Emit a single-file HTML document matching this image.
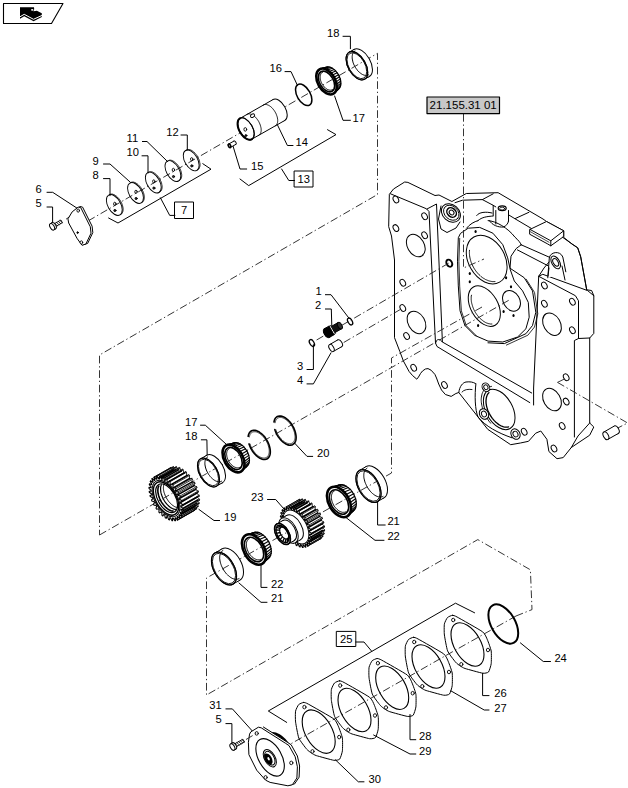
<!DOCTYPE html>
<html><head><meta charset="utf-8"><style>
html,body{margin:0;padding:0;background:#fff;}
svg{display:block;}
text{font-family:"Liberation Sans",sans-serif;fill:#000;}
</style></head><body>
<svg width="628" height="788" viewBox="0 0 628 788" stroke-linejoin="round" stroke-linecap="round">
<polygon points="3.5,3.5 63,3.5 51.5,23.5 3.5,23.5" fill="none" stroke="#000" stroke-width="1.1" />
<polygon points="20,7.3 34,7.3 34.2,9.3 33.4,11.2 36.9,10.7 41.8,13.2 41.8,17 33.6,21.3 24.2,16.3 20,18.8" fill="#000"/>
<polyline points="20.3,16.6 24.2,14.3 33.5,19.3 41.8,15.5" fill="none" stroke="#fff" stroke-width="1.0" />
<ellipse cx="32.2" cy="9.8" rx="1.2" ry="0.9" fill="#fff"/>
<polyline points="88,221 377.5,53.3 377.5,194.5 99.5,355 99.5,535" fill="none" stroke="#2a2a2a" stroke-width="0.95" stroke-dasharray="7.7 2.8 1.3 2.7" stroke-linecap="butt"/>
<polyline points="99.5,535 511,299" fill="none" stroke="#2a2a2a" stroke-width="0.95" stroke-dasharray="7.7 2.8 1.3 2.7" stroke-linecap="butt"/>
<polyline points="66,219.2 78,211" fill="none" stroke="#2a2a2a" stroke-width="0.95" stroke-dasharray="7.7 2.8 1.3 2.7" stroke-linecap="butt"/>
<polyline points="463.5,114 463.5,268 484,259" fill="none" stroke="#2a2a2a" stroke-width="0.95" stroke-dasharray="7.7 2.8 1.3 2.7" stroke-linecap="butt"/>
<polyline points="316.6,340 449,263" fill="none" stroke="#2a2a2a" stroke-width="0.95" stroke-dasharray="7.7 2.8 1.3 2.7" stroke-linecap="butt"/>
<polyline points="343.7,342.5 402,308.5" fill="none" stroke="#2a2a2a" stroke-width="0.95" stroke-dasharray="7.7 2.8 1.3 2.7" stroke-linecap="butt"/>
<polyline points="482,307 391.5,358 391.5,473 206.5,578 206.5,695 477.8,539.6 530.4,569.8 532,609.6 516,616" fill="none" stroke="#2a2a2a" stroke-width="0.95" stroke-dasharray="7.7 2.8 1.3 2.7" stroke-linecap="butt"/>
<polyline points="557.5,382.4 627.6,423 616.4,428.7" fill="none" stroke="#2a2a2a" stroke-width="0.95" stroke-dasharray="7.7 2.8 1.3 2.7" stroke-linecap="butt"/>
<polyline points="557.5,382.4 566,378.2" fill="none" stroke="#2a2a2a" stroke-width="0.95" stroke-dasharray="7.7 2.8 1.3 2.7" stroke-linecap="butt"/>
<polyline points="516,616 445,656 280,750" fill="none" stroke="#2a2a2a" stroke-width="0.95" stroke-dasharray="7.7 2.8 1.3 2.7" stroke-linecap="butt"/>
<polygon points="389.6,194 393.5,189 404.7,182 407.9,182.4 435,195.5 439,195 451.9,201.5 466.3,193.5 498.1,192.7 543,219 546.5,221.5 563.7,230.8 563.7,237.4 572,244 577.7,247.8 580.7,256.8 586.7,289.8 591.6,290.5 593.8,295.7 593.8,333.4 589.7,338 589.7,423 593.8,427 589.7,435.2 571.3,447.5 563.2,457.6 557,458.7 548.9,451.5 546.9,439.3 540.8,431 535.7,433.2 528.5,441.3 520.4,443 510.7,444.7 487.8,429.4 458.8,392.5 455.9,393.5 451.2,396.4 445.4,394.5 441.5,390 438.7,384 436.5,378 434.9,374.4 431.1,370.2 428,368.6 425.4,369 422.5,371 420.6,373.4 418.5,377 416.8,379.2 412.5,375.5 409.1,371.5 403.4,361 399.8,351.4 394.5,337.7 394.5,260 391.5,236 388.8,227" fill="#fff" stroke="#000" stroke-width="1" />
<clipPath id="hc"><polygon points="389.6,194 393.5,189 404.7,182 407.9,182.4 435,195.5 439,195 451.9,201.5 466.3,193.5 498.1,192.7 543,219 546.5,221.5 563.7,230.8 563.7,237.4 572,244 577.7,247.8 580.7,256.8 586.7,289.8 591.6,290.5 593.8,295.7 593.8,333.4 589.7,338 589.7,423 593.8,427 589.7,435.2 571.3,447.5 563.2,457.6 557,458.7 548.9,451.5 546.9,439.3 540.8,431 535.7,433.2 528.5,441.3 520.4,443 510.7,444.7 487.8,429.4 458.8,392.5 455.9,393.5 451.2,396.4 445.4,394.5 441.5,390 438.7,384 436.5,378 434.9,374.4 431.1,370.2 428,368.6 425.4,369 422.5,371 420.6,373.4 418.5,377 416.8,379.2 412.5,375.5 409.1,371.5 403.4,361 399.8,351.4 394.5,337.7 394.5,260 391.5,236 388.8,227"/></clipPath>
<polyline points="390.5,193.8 426.5,208.8 429,211.5 435.5,343 437,346.5 529.8,402.6" fill="none" stroke="#000" stroke-width="1" />
<polyline points="427,209 436.5,204 442.4,342 531.7,393" fill="none" stroke="#000" stroke-width="1" />
<path d="M435.5,343 C436,339 440,338 442.4,342" fill="none" stroke="#000" stroke-width="1" />
<polyline points="533.6,405 533.6,388 538.7,276.3 542.8,274.3 587.6,290.6 593.8,295.7" fill="none" stroke="#000" stroke-width="1" />
<polyline points="538.7,276.3 575.4,295.7 578.5,300.8 578.5,338.5 574.4,340.5 574.4,437" fill="none" stroke="#000" stroke-width="1" />
<polyline points="578.5,338.5 589.7,338" fill="none" stroke="#000" stroke-width="1" />
<polyline points="455,202.7 462.6,200.2 482.4,199.6 493.2,193.8" fill="none" stroke="#000" stroke-width="1" />
<polyline points="482.4,199.6 493.2,205.3 493.2,215.5" fill="none" stroke="#000" stroke-width="1" />
<polyline points="493.2,205.3 495.8,206.9" fill="none" stroke="#000" stroke-width="1" />
<polyline points="508.5,214.8 514.9,218.7 528.9,212.3" fill="none" stroke="#000" stroke-width="1" />
<polyline points="514.9,218.7 531.3,228.4" fill="none" stroke="#000" stroke-width="1" />
<path d="M476.7,215.5 C479,212 486,211.5 492,213" fill="none" stroke="#000" stroke-width="1" />
<path d="M478,220.6 C482,217 487,216.5 493.2,216" fill="none" stroke="#000" stroke-width="1" />
<path d="M466.5,228.2 C470,224 474,221.8 478,220.6" fill="none" stroke="#000" stroke-width="1" />
<polyline points="495.8,210.5 495.8,224" fill="none" stroke="#000" stroke-width="1" />
<polyline points="508.5,210.5 508.5,221.2" fill="none" stroke="#000" stroke-width="1" />
<path d="M489.4,220.6 C492,225 498,227.5 503.4,227 C506,226 508,224 508.5,221.2" fill="none" stroke="#000" stroke-width="1" />
<path d="M488.1,220.6 C496,221 508,228 514.9,237.1 C518,240 520.5,242.5 521.2,244.8" fill="none" stroke="#000" stroke-width="1" />
<polyline points="521.2,244.8 516.1,248.6 511,256.2 509.8,270" fill="none" stroke="#000" stroke-width="1" />
<polyline points="521.2,244.8 550,257.5" fill="none" stroke="#000" stroke-width="1" />
<polyline points="517.4,249.9 548.5,266" fill="none" stroke="#000" stroke-width="1" />
<polygon points="530,229.4 546.5,221.5 563.7,230.8 563.7,236.5 550.8,245.8 547.2,243.7 530,234.4" fill="#fff" stroke="#000" stroke-width="1" />
<polyline points="530,229.4 550.8,240.8 563.7,230.8" fill="none" stroke="#000" stroke-width="1" />
<polyline points="550.8,240.8 550.8,245.8" fill="none" stroke="#000" stroke-width="1" />
<polyline points="530.5,231.8 549,242.2" fill="none" stroke="#000" stroke-width="0.7" />
<polyline points="562.8,237.4 572,244 577.7,247.8 580.7,256.8 586.7,289.8" fill="none" stroke="#000" stroke-width="1" />
<path d="M547.8,277.8 L549.3,258 C550,252 560,250 562.8,257 L565.8,271.8" fill="#fff" stroke="#000" stroke-width="1" />
<polyline points="538.7,276.3 544,268 549,262" fill="none" stroke="#000" stroke-width="1" />
<ellipse cx="555.7" cy="262.4" rx="3.9" ry="7" transform="rotate(-29.7 555.7 262.4)" fill="#fff" stroke="#000" stroke-width="1" />
<ellipse cx="555.7" cy="262.4" rx="2.4" ry="4.2" transform="rotate(-29.7 555.7 262.4)" fill="#fff" stroke="#000" stroke-width="1" />
<polyline points="549,268 548,276" fill="none" stroke="#000" stroke-width="1" />
<polyline points="562,266 565,280" fill="none" stroke="#000" stroke-width="1" />
<polyline points="509.4,267.8 524.2,277.7 532.5,290.9 535.8,312.3 532.5,325.5 525.9,333.7 504.4,343.6 488,342.8" fill="none" stroke="#000" stroke-width="1" />
<polyline points="526.2,279.2 534.5,292.4 537.8,313.8 534.5,327 527.9,335.2 506.4,345.1" fill="none" stroke="#000" stroke-width="0.8" />
<polygon points="458.3,238.1 457.5,261.2 458.3,285.9 460,310.7 464.9,325.5 474.8,335.4 488,341.1 502.8,342 517.6,337 525.9,328.8 529.2,317.2 528.3,302.4 522.6,290.9 514.3,281 510.2,269.4 507.7,257.9 502.8,244.7 492.9,233.2 479.7,227.4 468.2,228.2 460.8,233.2" fill="#fff" stroke="#000" stroke-width="1" />
<polyline points="459.7,238.3 458.9,261.4 459.7,286.1 461.4,310.9 466.3,325.7 476.2,335.6" fill="none" stroke="#000" stroke-width="0.8" />
<ellipse cx="486.7" cy="259.6" rx="18.2" ry="26" transform="rotate(-29.7 486.7 259.6)" fill="#fff" stroke="#000" stroke-width="1" />
<polyline points="495,281.6 494.1,281.6 493.2,281.6 492.2,281.6 491.3,281.4 490.3,281.2 489.4,281 488.4,280.7 487.5,280.3 486.5,279.9 485.5,279.5 484.6,278.9 483.7,278.4 482.7,277.8 481.8,277.1 480.9,276.4 480.1,275.6 479.2,274.8 478.4,274 477.6,273.1 476.8,272.2 476,271.2 475.3,270.2 474.6,269.2 474,268.2 473.4,267.1 472.8,266 472.3,264.9 471.8,263.8 471.3,262.7 470.9,261.5 470.6,260.4 470.3,259.3 470,258.1 469.8,257 469.6,255.8 469.5,254.7 469.4,253.6 469.4,252.5 469.4,251.4 469.5,250.3" fill="none" stroke="#000" stroke-width="0.9" />
<ellipse cx="484.3" cy="306.1" rx="13.6" ry="22" transform="rotate(-29.7 484.3 306.1)" fill="#fff" stroke="#000" stroke-width="1" />
<polyline points="491.9,324 491.1,324 490.4,324 489.6,323.8 488.8,323.7 488,323.5 487.3,323.2 486.4,322.9 485.6,322.5 484.8,322 484,321.6 483.2,321 482.5,320.4 481.7,319.8 480.9,319.2 480.2,318.5 479.4,317.7 478.7,316.9 478,316.1 477.4,315.3 476.7,314.4 476.1,313.5 475.5,312.6 474.9,311.6 474.4,310.6 473.9,309.7 473.5,308.7 473.1,307.7 472.7,306.6 472.4,305.6 472.1,304.6 471.8,303.6 471.6,302.6 471.4,301.6 471.3,300.6 471.2,299.7 471.2,298.7 471.2,297.8 471.2,296.9 471.3,296 471.5,295.2" fill="none" stroke="#000" stroke-width="0.9" />
<ellipse cx="511.5" cy="300.8" rx="8.2" ry="11" transform="rotate(-29.7 511.5 300.8)" fill="#fff" stroke="#000" stroke-width="1" />
<ellipse cx="475.6" cy="231.5" rx="1.1" ry="1.5" transform="rotate(0 475.6 231.5)" fill="#000" stroke="#000" stroke-width="0"/>
<ellipse cx="469.8" cy="273.6" rx="1.1" ry="1.5" transform="rotate(0 469.8 273.6)" fill="#000" stroke="#000" stroke-width="0"/>
<ellipse cx="469.8" cy="281.8" rx="1.1" ry="1.5" transform="rotate(0 469.8 281.8)" fill="#000" stroke="#000" stroke-width="0"/>
<ellipse cx="506.1" cy="277.7" rx="1.1" ry="1.5" transform="rotate(0 506.1 277.7)" fill="#000" stroke="#000" stroke-width="0"/>
<ellipse cx="511" cy="286.8" rx="1.1" ry="1.5" transform="rotate(0 511 286.8)" fill="#000" stroke="#000" stroke-width="0"/>
<ellipse cx="503.6" cy="311.5" rx="1.1" ry="1.5" transform="rotate(0 503.6 311.5)" fill="#000" stroke="#000" stroke-width="0"/>
<ellipse cx="513.5" cy="315.6" rx="1.1" ry="1.5" transform="rotate(0 513.5 315.6)" fill="#000" stroke="#000" stroke-width="0"/>
<ellipse cx="478.1" cy="325.5" rx="1.1" ry="1.5" transform="rotate(0 478.1 325.5)" fill="#000" stroke="#000" stroke-width="0"/>
<polyline points="441,206 438.5,219 441,229 447,232.5 456,228 460,222" fill="#fff" stroke="#000" stroke-width="1" />
<ellipse cx="450.9" cy="213" rx="10.5" ry="8.2" transform="rotate(42 450.9 213)" fill="#fff" stroke="#000" stroke-width="1"/>
<ellipse cx="451.3" cy="212.8" rx="8.6" ry="6.6" transform="rotate(42 451.3 212.8)" fill="none" stroke="#000" stroke-width="0.9"/>
<ellipse cx="451.6" cy="212.5" rx="5.2" ry="4.2" transform="rotate(42 451.6 212.5)" fill="#fff" stroke="#000" stroke-width="1.5"/>
<ellipse cx="451.6" cy="212.5" rx="2.6" ry="2.1" transform="rotate(42 451.6 212.5)" fill="#fff" stroke="#000" stroke-width="1"/>
<ellipse cx="502.2" cy="208.2" rx="4" ry="2.4" transform="rotate(0 502.2 208.2)" fill="#fff" stroke="#000" stroke-width="1.2"/>
<ellipse cx="502.2" cy="208.6" rx="2.5" ry="1.4" transform="rotate(0 502.2 208.6)" fill="#fff" stroke="#000" stroke-width="0.8"/>
<ellipse cx="395.9" cy="199.5" rx="2.5" ry="3.6" transform="rotate(-29.7 395.9 199.5)" fill="#fff" stroke="#000" stroke-width="1" />
<ellipse cx="424.6" cy="216.2" rx="2.5" ry="3.6" transform="rotate(-29.7 424.6 216.2)" fill="#fff" stroke="#000" stroke-width="1" />
<ellipse cx="395.9" cy="228.1" rx="2.5" ry="3.6" transform="rotate(-29.7 395.9 228.1)" fill="#fff" stroke="#000" stroke-width="1" />
<ellipse cx="424.6" cy="235.3" rx="2.5" ry="3.6" transform="rotate(-29.7 424.6 235.3)" fill="#fff" stroke="#000" stroke-width="1" />
<ellipse cx="402.8" cy="282.8" rx="2.5" ry="3.6" transform="rotate(-29.7 402.8 282.8)" fill="#fff" stroke="#000" stroke-width="1" />
<ellipse cx="402.8" cy="308" rx="2.5" ry="3.6" transform="rotate(-29.7 402.8 308)" fill="#fff" stroke="#000" stroke-width="1" />
<ellipse cx="406.6" cy="336" rx="2.5" ry="3.6" transform="rotate(-29.7 406.6 336)" fill="#fff" stroke="#000" stroke-width="1" />
<ellipse cx="413.7" cy="367.8" rx="2.5" ry="3.6" transform="rotate(-29.7 413.7 367.8)" fill="#fff" stroke="#000" stroke-width="1" />
<ellipse cx="444.5" cy="385" rx="2.5" ry="3.6" transform="rotate(-29.7 444.5 385)" fill="#fff" stroke="#000" stroke-width="1" />
<ellipse cx="544.4" cy="285.5" rx="2.5" ry="3.6" transform="rotate(-29.7 544.4 285.5)" fill="#fff" stroke="#000" stroke-width="1" />
<ellipse cx="572.4" cy="301.8" rx="2.5" ry="3.6" transform="rotate(-29.7 572.4 301.8)" fill="#fff" stroke="#000" stroke-width="1" />
<ellipse cx="544.4" cy="303.8" rx="2.5" ry="3.6" transform="rotate(-29.7 544.4 303.8)" fill="#fff" stroke="#000" stroke-width="1" />
<ellipse cx="572.4" cy="330.3" rx="2.5" ry="3.6" transform="rotate(-29.7 572.4 330.3)" fill="#fff" stroke="#000" stroke-width="1" />
<ellipse cx="566.2" cy="377.2" rx="2.5" ry="3.6" transform="rotate(-29.7 566.2 377.2)" fill="#fff" stroke="#000" stroke-width="1" />
<ellipse cx="566.2" cy="401.6" rx="2.5" ry="3.6" transform="rotate(-29.7 566.2 401.6)" fill="#fff" stroke="#000" stroke-width="1" />
<ellipse cx="562.2" cy="426" rx="2.5" ry="3.6" transform="rotate(-29.7 562.2 426)" fill="#fff" stroke="#000" stroke-width="1" />
<ellipse cx="554" cy="448.5" rx="2.5" ry="3.6" transform="rotate(-29.7 554 448.5)" fill="#fff" stroke="#000" stroke-width="1" />
<ellipse cx="524.2" cy="431.8" rx="2.5" ry="3.6" transform="rotate(-29.7 524.2 431.8)" fill="#fff" stroke="#000" stroke-width="1" />
<ellipse cx="415.8" cy="245.6" rx="8.4" ry="12" transform="rotate(-29.7 415.8 245.6)" fill="#fff" stroke="#000" stroke-width="1" />
<ellipse cx="416.5" cy="322.4" rx="8.4" ry="12" transform="rotate(-29.7 416.5 322.4)" fill="#fff" stroke="#000" stroke-width="1" />
<ellipse cx="552" cy="324.2" rx="8.4" ry="12" transform="rotate(-29.7 552 324.2)" fill="#fff" stroke="#000" stroke-width="1" />
<ellipse cx="552" cy="399.6" rx="8.4" ry="12" transform="rotate(-29.7 552 399.6)" fill="#fff" stroke="#000" stroke-width="1" />
<ellipse cx="449.3" cy="263.2" rx="2.7" ry="3.8" transform="rotate(-29.7 449.3 263.2)" fill="#fff" stroke="#000" stroke-width="1.9" />
<path d="M475.9,383.9 C474.5,395 475,410 478,417 C485,426 498,433 511.9,437.8" fill="none" stroke="#000" stroke-width="1" />
<path d="M458.8,392.5 C459.5,386 463,382.5 466,382 C470,381.5 473,382 475.5,383.5" fill="none" stroke="#000" stroke-width="1" />
<path d="M462,392 C464,389.5 468,389 472,389.5" fill="none" stroke="#000" stroke-width="0.9" />
<ellipse cx="499.2" cy="409.4" rx="13.2" ry="22" transform="rotate(-29.7 499.2 409.4)" fill="#fff" stroke="#000" stroke-width="1" />
<polyline points="508.6,426.9 507.7,427.1 506.8,427.2 505.9,427.1 504.9,427.1 503.9,426.9 503,426.6 501.9,426.2 500.9,425.8 499.9,425.2 498.9,424.6 497.9,423.9 496.9,423.1 495.9,422.3 495,421.4 494,420.4 493.2,419.4 492.3,418.3 491.5,417.1 490.7,416 490,414.7 489.3,413.5 488.7,412.2 488.1,411 487.6,409.7 487.2,408.4 486.8,407.1 486.5,405.8 486.3,404.5 486.1,403.3 486,402 486,400.8 486.1,399.7 486.2,398.6 486.4,397.5 486.7,396.5 487,395.6 487.4,394.7 487.9,393.9 488.4,393.2 489,392.6" fill="none" stroke="#000" stroke-width="1.3" />
<polyline points="490.6,423.2 489.8,422.1 488.9,421.1 488.2,420 487.4,418.8 486.7,417.7 486,416.5 485.3,415.3 484.7,414 484.2,412.8 483.6,411.6 483.2,410.3 482.7,409 482.4,407.8 482.1,406.5 481.8,405.3 481.6,404 481.4,402.8 481.3,401.6 481.2,400.4 481.2,399.3 481.3,398.2 481.4,397.1 481.6,396 481.8,395 482,394.1 482.3,393.2 482.7,392.3 483.1,391.5 483.6,390.7 484.1,390 484.7,389.4 485.3,388.8 485.9,388.3 486.6,387.8 487.3,387.4 488.1,387.1 488.9,386.8 489.7,386.6 490.6,386.5 491.5,386.4" fill="none" stroke="#000" stroke-width="0.9" />
<ellipse cx="484" cy="414" rx="4.4" ry="5.5" transform="rotate(-29.7 484 414)" fill="#fff" stroke="#000" stroke-width="1" />
<ellipse cx="484" cy="414" rx="2.4" ry="3" transform="rotate(-29.7 484 414)" fill="#fff" stroke="#000" stroke-width="0.9" />
<ellipse cx="485.9" cy="387.3" rx="3.6" ry="4.5" transform="rotate(-29.7 485.9 387.3)" fill="#fff" stroke="#000" stroke-width="1" />
<ellipse cx="485.9" cy="387.3" rx="2" ry="2.5" transform="rotate(-29.7 485.9 387.3)" fill="#fff" stroke="#000" stroke-width="0.9" />
<ellipse cx="515.5" cy="434.1" rx="4.4" ry="5.5" transform="rotate(-29.7 515.5 434.1)" fill="#fff" stroke="#000" stroke-width="1" />
<ellipse cx="515.5" cy="434.1" rx="2.4" ry="3" transform="rotate(-29.7 515.5 434.1)" fill="#fff" stroke="#000" stroke-width="0.9" />
<polyline points="589.7,423 578,436 571.3,447.5" fill="none" stroke="#000" stroke-width="1" />
<ellipse cx="616.3" cy="429.8" rx="2.4" ry="4.2" transform="rotate(-29.7 616.3 429.8)" fill="#fff" stroke="#000" stroke-width="1" />
<polygon points="608,439.3 618.4,433.4 614.2,426.1 603.8,432.1" fill="#fff" stroke="none" stroke-width="0" />
<line x1="608" y1="439.3" x2="618.4" y2="433.4" stroke="#000" stroke-width="1"/>
<line x1="614.2" y1="426.1" x2="603.8" y2="432.1" stroke="#000" stroke-width="1"/>
<ellipse cx="605.9" cy="435.7" rx="2.4" ry="4.2" transform="rotate(-29.7 605.9 435.7)" fill="#fff" stroke="#000" stroke-width="1" />
<g clip-path="url(#hc)">
<polyline points="99.5,535 511,299" fill="none" stroke="#2a2a2a" stroke-width="0.95" stroke-dasharray="7.7 2.8 1.3 2.7" stroke-linecap="butt"/>
<polyline points="463.5,114 463.5,268 484,259" fill="none" stroke="#2a2a2a" stroke-width="0.95" stroke-dasharray="7.7 2.8 1.3 2.7" stroke-linecap="butt"/>
<polyline points="316.6,340 449,263" fill="none" stroke="#2a2a2a" stroke-width="0.95" stroke-dasharray="7.7 2.8 1.3 2.7" stroke-linecap="butt"/>
<polyline points="343.7,342.5 402,308.5" fill="none" stroke="#2a2a2a" stroke-width="0.95" stroke-dasharray="7.7 2.8 1.3 2.7" stroke-linecap="butt"/>
<polyline points="482,307 391.5,358" fill="none" stroke="#2a2a2a" stroke-width="0.95" stroke-dasharray="7.7 2.8 1.3 2.7" stroke-linecap="butt"/>
<polyline points="557.5,382.4 627.6,423" fill="none" stroke="#2a2a2a" stroke-width="0.95" stroke-dasharray="7.7 2.8 1.3 2.7" stroke-linecap="butt"/>
<polyline points="557.5,382.4 566,378.2" fill="none" stroke="#2a2a2a" stroke-width="0.95" stroke-dasharray="7.7 2.8 1.3 2.7" stroke-linecap="butt"/>
</g>
<text x="35.6" y="207" font-size="11.2" text-anchor="start" font-weight="normal">5</text>
<polyline points="47,207 52.6,207 52.6,224" fill="none" stroke="#000" stroke-width="1" />
<text x="35.6" y="193" font-size="11.2" text-anchor="start" font-weight="normal">6</text>
<polyline points="47,192.3 52.7,192.3 78,208.8" fill="none" stroke="#000" stroke-width="1" />
<text x="92.6" y="179" font-size="11.2" text-anchor="start" font-weight="normal">8</text>
<polyline points="103.5,178.6 110,178.6 110,195.7" fill="none" stroke="#000" stroke-width="1" />
<text x="92.6" y="164.7" font-size="11.2" text-anchor="start" font-weight="normal">9</text>
<polyline points="103.5,164 110,164 130.4,182.3" fill="none" stroke="#000" stroke-width="1" />
<text x="126.6" y="156.4" font-size="11.2" text-anchor="start" font-weight="normal">10</text>
<polyline points="142,155.8 148,155.8 148,173" fill="none" stroke="#000" stroke-width="1" />
<text x="126.6" y="142" font-size="11.2" text-anchor="start" font-weight="normal">11</text>
<polyline points="142.4,141.5 147,141.5 167.6,161.6" fill="none" stroke="#000" stroke-width="1" />
<text x="166.2" y="135.7" font-size="11.2" text-anchor="start" font-weight="normal">12</text>
<polyline points="181,135 187.3,135 187.3,150" fill="none" stroke="#000" stroke-width="1" />
<rect x="174.9" y="202" width="18.6" height="16.5" fill="#fff" stroke="#000" stroke-width="1"/>
<text x="184.2" y="214.3" font-size="11.2" text-anchor="middle" font-weight="normal">7</text>
<polyline points="108.6,218 118,223 211,169.2 202.8,163.7" fill="none" stroke="#000" stroke-width="1" />
<polyline points="160.4,197.8 169.7,215.4 174.9,215.4" fill="none" stroke="#000" stroke-width="1" />
<text x="269.6" y="71.6" font-size="11.2" text-anchor="start" font-weight="normal">16</text>
<polyline points="285,71.6 291,71.6 297.4,85.3" fill="none" stroke="#000" stroke-width="1" />
<text x="327.1" y="36.6" font-size="11.2" text-anchor="start" font-weight="normal">18</text>
<polyline points="343,36.3 350.4,36.3 350.4,48.7" fill="none" stroke="#000" stroke-width="1" />
<text x="352.6" y="121.7" font-size="11.2" text-anchor="start" font-weight="normal">17</text>
<polyline points="334.6,96 343,120.3 350.4,120.3" fill="none" stroke="#000" stroke-width="1" />
<text x="295.6" y="146" font-size="11.2" text-anchor="start" font-weight="normal">14</text>
<polyline points="277.3,124.6 287.4,145.5 293,145.5" fill="none" stroke="#000" stroke-width="1" />
<text x="251.1" y="170.4" font-size="11.2" text-anchor="start" font-weight="normal">15</text>
<polyline points="233,146 240,169 246.7,169" fill="none" stroke="#000" stroke-width="1" />
<rect x="294.5" y="171" width="18.5" height="16" fill="#fff" stroke="#000" stroke-width="1"/>
<text x="303.8" y="183.1" font-size="11.2" text-anchor="middle" font-weight="normal">13</text>
<polyline points="240,179 248.7,185.6 336,134.6 327.5,129.7" fill="none" stroke="#000" stroke-width="1" />
<polyline points="281.6,169 288.8,180.5 294.5,180.5" fill="none" stroke="#000" stroke-width="1" />
<rect x="427" y="97" width="72.5" height="16.6" fill="#c8c8c8" stroke="#000" stroke-width="1.2"/>
<text x="463.2" y="109.4" font-size="11.5" text-anchor="middle" font-weight="normal">21.155.31 01</text>
<text x="315.4" y="294.7" font-size="11.2" text-anchor="start" font-weight="normal">1</text>
<polyline points="325.4,294.7 331,294.7 349.3,318.6" fill="none" stroke="#000" stroke-width="1" />
<text x="315" y="309" font-size="11.2" text-anchor="start" font-weight="normal">2</text>
<polyline points="325.4,309 331.3,309 331.8,325.7" fill="none" stroke="#000" stroke-width="1" />
<text x="297.1" y="369.5" font-size="11.2" text-anchor="start" font-weight="normal">3</text>
<polyline points="307,369.5 313.4,369.5 313.4,344.8" fill="none" stroke="#000" stroke-width="1" />
<text x="297.1" y="383.9" font-size="11.2" text-anchor="start" font-weight="normal">4</text>
<polyline points="307,383.9 313.4,383.9 331,352.8" fill="none" stroke="#000" stroke-width="1" />
<text x="185" y="425.5" font-size="11.2" text-anchor="start" font-weight="normal">17</text>
<polyline points="200.5,425.2 205.3,425.2 228.4,446.2" fill="none" stroke="#000" stroke-width="1" />
<text x="185" y="439.8" font-size="11.2" text-anchor="start" font-weight="normal">18</text>
<polyline points="201.3,439.8 206.9,439.8 207.2,457.3" fill="none" stroke="#000" stroke-width="1" />
<text x="317.1" y="457.3" font-size="11.2" text-anchor="start" font-weight="normal">20</text>
<polyline points="294.5,443 307,456.4 312.7,456.4" fill="none" stroke="#000" stroke-width="1" />
<text x="224" y="520.5" font-size="11.2" text-anchor="start" font-weight="normal">19</text>
<polyline points="198.9,509.4 214,520.5 219.6,520.5" fill="none" stroke="#000" stroke-width="1" />
<text x="251.1" y="500.8" font-size="11.2" text-anchor="start" font-weight="normal">23</text>
<polyline points="267.5,499.5 275.7,499.5 284.6,509.7" fill="none" stroke="#000" stroke-width="1" />
<text x="387.4" y="525" font-size="11.2" text-anchor="start" font-weight="normal">21</text>
<polyline points="377.6,502 377.6,525 385.2,525" fill="none" stroke="#000" stroke-width="1" />
<text x="387.4" y="540.3" font-size="11.2" text-anchor="start" font-weight="normal">22</text>
<polyline points="345.7,517.3 375,540.3 384,540.3" fill="none" stroke="#000" stroke-width="1" />
<text x="271.1" y="588.3" font-size="11.2" text-anchor="start" font-weight="normal">22</text>
<polyline points="261,563.8 261,587.4 267,587.4" fill="none" stroke="#000" stroke-width="1" />
<text x="271.1" y="602.3" font-size="11.2" text-anchor="start" font-weight="normal">21</text>
<polyline points="239,583 261,602.3 267,602.3" fill="none" stroke="#000" stroke-width="1" />
<rect x="336.7" y="631.4" width="19.1" height="15.1" fill="#fff" stroke="#000" stroke-width="1"/>
<text x="346.2" y="643" font-size="11.2" text-anchor="middle" font-weight="normal">25</text>
<polyline points="355.8,642 364,642 371.5,651" fill="none" stroke="#000" stroke-width="1" />
<polyline points="286.7,722.4 268.3,711 455.5,603.2 474.6,612.8" fill="none" stroke="#000" stroke-width="1" />
<text x="554.4" y="662.4" font-size="11.2" text-anchor="start" font-weight="normal">24</text>
<polyline points="520.4,642.9 543.3,661.5 550.5,661.5" fill="none" stroke="#000" stroke-width="1" />
<text x="494.2" y="697.3" font-size="11.2" text-anchor="start" font-weight="normal">26</text>
<polyline points="482.6,673.3 482.6,695.6 489,695.6" fill="none" stroke="#000" stroke-width="1" />
<text x="494.2" y="711.7" font-size="11.2" text-anchor="start" font-weight="normal">27</text>
<polyline points="450.8,690.8 484.2,710 489,710" fill="none" stroke="#000" stroke-width="1" />
<text x="419.1" y="740.3" font-size="11.2" text-anchor="start" font-weight="normal">28</text>
<polyline points="410,714.5 410,739.7 415.8,739.7" fill="none" stroke="#000" stroke-width="1" />
<text x="419.1" y="754.6" font-size="11.2" text-anchor="start" font-weight="normal">29</text>
<polyline points="373.6,735 410,754 415.8,754" fill="none" stroke="#000" stroke-width="1" />
<text x="368.5" y="782.7" font-size="11.2" text-anchor="start" font-weight="normal">30</text>
<polyline points="335.4,759.8 358.3,781.8 364,781.8" fill="none" stroke="#000" stroke-width="1" />
<text x="209.2" y="709.3" font-size="11.2" text-anchor="start" font-weight="normal">31</text>
<polyline points="225.9,708.9 232.4,708.9 252.5,731.2" fill="none" stroke="#000" stroke-width="1" />
<text x="215.4" y="723.3" font-size="11.2" text-anchor="start" font-weight="normal">5</text>
<polyline points="225.9,723.6 231.9,723.6 231.9,743.4" fill="none" stroke="#000" stroke-width="1" />
<polygon points="52.9,228.2 62.4,222.7 60.9,220 51.3,225.4" fill="#fff" stroke="#000" stroke-width="0.9" />
<line x1="57.2" y1="225.7" x2="54.8" y2="223.4" stroke="#000" stroke-width="0.8"/>
<line x1="59" y1="224.7" x2="56.5" y2="222.4" stroke="#000" stroke-width="0.8"/>
<line x1="60.7" y1="223.7" x2="58.3" y2="221.4" stroke="#000" stroke-width="0.8"/>
<line x1="62.4" y1="222.7" x2="60" y2="220.5" stroke="#000" stroke-width="0.8"/>
<ellipse cx="53.8" cy="225.8" rx="2" ry="3.6" transform="rotate(-29.7 53.8 225.8)" fill="#fff" stroke="#000" stroke-width="1" />
<polygon points="53.9,229.9 55.6,228.9 52.1,222.7 50.3,223.7" fill="#fff" stroke="none" stroke-width="0" />
<line x1="53.9" y1="229.9" x2="55.6" y2="228.9" stroke="#000" stroke-width="1"/>
<line x1="52.1" y1="222.7" x2="50.3" y2="223.7" stroke="#000" stroke-width="1"/>
<ellipse cx="52.1" cy="226.8" rx="2" ry="3.6" transform="rotate(-29.7 52.1 226.8)" fill="#fff" stroke="#000" stroke-width="1" />
<polygon points="74.3,211 80,206.5 82.6,207.1 92.1,226.2 92.8,232.6 87.7,243.4 83.8,244.7 78.8,237.7 70.5,222.4 69.8,218.6" fill="#fff" stroke="#000" stroke-width="1" />
<polygon points="72.5,211.6 78.2,207.1 80.8,207.7 90.3,226.8 91,233.2 85.9,244 82,245.3 77,238.3 68.7,223 68,219.2" fill="#fff" stroke="#000" stroke-width="1" />
<ellipse cx="78.2" cy="210.6" rx="1.3" ry="1.6" transform="rotate(0 78.2 210.6)" fill="#fff" stroke="#000" stroke-width="0.9"/>
<ellipse cx="81.4" cy="242.4" rx="1.3" ry="1.6" transform="rotate(0 81.4 242.4)" fill="#fff" stroke="#000" stroke-width="0.9"/>
<ellipse cx="77.6" cy="232.6" rx="0.7" ry="0.9" transform="rotate(0 77.6 232.6)" fill="#000" stroke="#000" stroke-width="0.9"/>
<polyline points="109.5,194.6 110,194.4 110.5,194.2 111,194.1 111.5,194.1 112.1,194.1 112.7,194.2 113.3,194.4 113.9,194.6 114.5,194.9 115.1,195.3 115.7,195.7 116.3,196.1 116.9,196.6 117.5,197.2 118.1,197.8 118.7,198.4 119.2,199.1 119.8,199.8 120.3,200.6 120.7,201.3 121.1,202.1 121.5,202.9 121.9,203.7 122.2,204.6 122.5,205.4 122.7,206.2 122.8,207 123,207.8 123.1,208.5 123.1,209.3 123.1,210 123,210.7 122.9,211.3 122.7,211.9 122.5,212.4 122.3,212.9 122,213.4 121.6,213.8 121.2,214.1 120.8,214.4" fill="none" stroke="#000" stroke-width="0.9" />
<ellipse cx="114.3" cy="205" rx="6.4" ry="11.4" transform="rotate(-29.7 114.3 205)" fill="none" stroke="#000" stroke-width="0.9" />
<ellipse cx="114.8" cy="203.8" rx="1.2" ry="1.6" transform="rotate(0 114.8 203.8)" fill="none" stroke="#000" stroke-width="0.9"/>
<ellipse cx="114.9" cy="210.5" rx="1.1" ry="1.1" transform="rotate(0 114.9 210.5)" fill="#333" stroke="#000" stroke-width="0.9"/>
<polyline points="130.7,182.6 131.2,182.4 131.7,182.2 132.2,182.1 132.7,182.1 133.3,182.1 133.9,182.2 134.5,182.4 135.1,182.6 135.7,182.9 136.3,183.3 136.9,183.7 137.5,184.1 138.1,184.6 138.7,185.2 139.3,185.8 139.9,186.4 140.4,187.1 141,187.8 141.5,188.6 141.9,189.3 142.3,190.1 142.7,190.9 143.1,191.7 143.4,192.6 143.7,193.4 143.9,194.2 144,195 144.2,195.8 144.3,196.5 144.3,197.3 144.3,198 144.2,198.7 144.1,199.3 143.9,199.9 143.7,200.4 143.5,200.9 143.2,201.4 142.8,201.8 142.4,202.1 142,202.4" fill="none" stroke="#000" stroke-width="0.9" />
<ellipse cx="135.5" cy="193" rx="6.4" ry="11.4" transform="rotate(-29.7 135.5 193)" fill="none" stroke="#000" stroke-width="0.9" />
<ellipse cx="136" cy="191.8" rx="1.2" ry="1.6" transform="rotate(0 136 191.8)" fill="none" stroke="#000" stroke-width="0.9"/>
<ellipse cx="136.1" cy="198.5" rx="1.1" ry="1.1" transform="rotate(0 136.1 198.5)" fill="#333" stroke="#000" stroke-width="0.9"/>
<polyline points="148.5,172.2 149,172 149.5,171.8 150,171.7 150.5,171.7 151.1,171.7 151.7,171.8 152.3,172 152.9,172.2 153.5,172.5 154.1,172.9 154.7,173.3 155.3,173.7 155.9,174.2 156.5,174.8 157.1,175.4 157.7,176 158.2,176.7 158.8,177.4 159.3,178.2 159.7,178.9 160.1,179.7 160.5,180.5 160.9,181.3 161.2,182.2 161.5,183 161.7,183.8 161.8,184.6 162,185.4 162.1,186.1 162.1,186.9 162.1,187.6 162,188.3 161.9,188.9 161.7,189.5 161.5,190 161.3,190.5 161,191 160.6,191.4 160.2,191.7 159.8,192" fill="none" stroke="#000" stroke-width="0.9" />
<ellipse cx="153.3" cy="182.6" rx="6.4" ry="11.4" transform="rotate(-29.7 153.3 182.6)" fill="none" stroke="#000" stroke-width="0.9" />
<ellipse cx="153.8" cy="181.4" rx="1.2" ry="1.6" transform="rotate(0 153.8 181.4)" fill="none" stroke="#000" stroke-width="0.9"/>
<ellipse cx="153.9" cy="188.1" rx="1.1" ry="1.1" transform="rotate(0 153.9 188.1)" fill="#333" stroke="#000" stroke-width="0.9"/>
<polyline points="168.1,160.7 168.6,160.5 169.1,160.3 169.6,160.2 170.1,160.2 170.7,160.2 171.3,160.3 171.9,160.5 172.5,160.7 173.1,161 173.7,161.4 174.3,161.8 174.9,162.2 175.5,162.7 176.1,163.3 176.7,163.9 177.3,164.5 177.8,165.2 178.4,165.9 178.9,166.7 179.3,167.4 179.7,168.2 180.1,169 180.5,169.8 180.8,170.7 181.1,171.5 181.3,172.3 181.4,173.1 181.6,173.9 181.7,174.6 181.7,175.4 181.7,176.1 181.6,176.8 181.5,177.4 181.3,178 181.1,178.5 180.9,179 180.6,179.5 180.2,179.9 179.8,180.2 179.4,180.5" fill="none" stroke="#000" stroke-width="0.9" />
<ellipse cx="172.9" cy="171.1" rx="6.4" ry="11.4" transform="rotate(-29.7 172.9 171.1)" fill="none" stroke="#000" stroke-width="0.9" />
<ellipse cx="173.4" cy="169.9" rx="1.2" ry="1.6" transform="rotate(0 173.4 169.9)" fill="none" stroke="#000" stroke-width="0.9"/>
<ellipse cx="173.5" cy="176.6" rx="1.1" ry="1.1" transform="rotate(0 173.5 176.6)" fill="#333" stroke="#000" stroke-width="0.9"/>
<polyline points="186.4,150 186.9,149.8 187.4,149.6 187.9,149.5 188.4,149.5 189,149.5 189.6,149.6 190.2,149.8 190.8,150 191.4,150.3 192,150.7 192.6,151.1 193.2,151.5 193.8,152 194.4,152.6 195,153.2 195.6,153.8 196.1,154.5 196.7,155.2 197.2,156 197.6,156.7 198,157.5 198.4,158.3 198.8,159.1 199.1,160 199.4,160.8 199.6,161.6 199.7,162.4 199.9,163.2 200,163.9 200,164.7 200,165.4 199.9,166.1 199.8,166.7 199.6,167.3 199.4,167.8 199.2,168.3 198.9,168.8 198.5,169.2 198.1,169.5 197.7,169.8" fill="none" stroke="#000" stroke-width="0.9" />
<ellipse cx="191.2" cy="160.4" rx="6.4" ry="11.4" transform="rotate(-29.7 191.2 160.4)" fill="none" stroke="#000" stroke-width="0.9" />
<ellipse cx="191.7" cy="159.2" rx="1.2" ry="1.6" transform="rotate(0 191.7 159.2)" fill="none" stroke="#000" stroke-width="0.9"/>
<ellipse cx="191.8" cy="165.9" rx="1.1" ry="1.1" transform="rotate(0 191.8 165.9)" fill="#333" stroke="#000" stroke-width="0.9"/>
<ellipse cx="278.9" cy="110" rx="6.7" ry="12" transform="rotate(-29.7 278.9 110)" fill="#fff" stroke="#000" stroke-width="1" />
<polygon points="251.8,139.2 284.9,120.4 273,99.6 240,118.4" fill="#fff" stroke="none" stroke-width="0" />
<line x1="251.8" y1="139.2" x2="284.9" y2="120.4" stroke="#000" stroke-width="1"/>
<line x1="273" y1="99.6" x2="240" y2="118.4" stroke="#000" stroke-width="1"/>
<ellipse cx="245.9" cy="128.8" rx="6.7" ry="12" transform="rotate(-29.7 245.9 128.8)" fill="#fff" stroke="#000" stroke-width="1" />
<polyline points="246.9,114.4 247.4,114.2 247.9,114 248.4,113.9 249,113.9 249.6,113.9 250.2,114 250.8,114.2 251.5,114.4 252.1,114.7 252.8,115.1 253.4,115.5 254.1,116 254.7,116.6 255.4,117.1 256,117.8 256.6,118.5 257.1,119.2 257.7,119.9 258.2,120.7 258.7,121.5 259.1,122.3 259.5,123.2 259.9,124 260.2,124.9 260.5,125.8 260.7,126.6 260.9,127.4 261.1,128.3 261.1,129.1 261.2,129.9 261.2,130.6 261.1,131.3 261,132 260.8,132.6 260.6,133.2 260.3,133.7 260,134.2 259.6,134.6 259.2,135 258.8,135.3" fill="none" stroke="#000" stroke-width="0.9" />
<polyline points="263.4,105 263.9,104.8 264.4,104.6 264.9,104.5 265.5,104.5 266.1,104.5 266.7,104.6 267.3,104.8 268,105 268.6,105.3 269.3,105.7 269.9,106.1 270.6,106.6 271.2,107.1 271.9,107.7 272.5,108.4 273.1,109 273.6,109.8 274.2,110.5 274.7,111.3 275.2,112.1 275.6,112.9 276.1,113.8 276.4,114.6 276.7,115.5 277,116.3 277.3,117.2 277.4,118 277.6,118.9 277.7,119.7 277.7,120.4 277.7,121.2 277.6,121.9 277.5,122.6 277.3,123.2 277.1,123.8 276.8,124.3 276.5,124.8 276.1,125.2 275.7,125.6 275.3,125.9" fill="none" stroke="#000" stroke-width="0.9" />
<polyline points="251.8,139.2 251.4,139.5 250.9,139.6 250.3,139.7 249.7,139.7 249.2,139.7 248.5,139.6 247.9,139.4 247.3,139.2 246.6,138.9 246,138.5 245.3,138.1 244.7,137.6 244,137.1 243.4,136.5 242.8,135.9 242.2,135.2 241.6,134.5 241.1,133.7 240.5,132.9 240.1,132.1 239.6,131.3 239.2,130.5 238.8,129.6 238.5,128.7 238.2,127.9 238,127 237.8,126.2 237.7,125.4 237.6,124.6 237.6,123.8 237.6,123 237.7,122.3 237.8,121.6 238,121 238.2,120.4 238.4,119.9 238.8,119.4 239.1,119 239.5,118.7 240,118.4" fill="none" stroke="#000" stroke-width="2" />
<ellipse cx="245.9" cy="128.8" rx="6.7" ry="12" transform="rotate(-29.7 245.9 128.8)" fill="none" stroke="#000" stroke-width="1" />
<ellipse cx="245.3" cy="129.4" rx="1.4" ry="1.8" transform="rotate(0 245.3 129.4)" fill="none" stroke="#000" stroke-width="0.9"/>
<ellipse cx="245.9" cy="135.6" rx="1" ry="1" transform="rotate(0 245.9 135.6)" fill="#333" stroke="#000" stroke-width="0.9"/>
<ellipse cx="252.5" cy="115.7" rx="2.2" ry="1.6" transform="rotate(-30 252.5 115.7)" fill="#fff" stroke="#000" stroke-width="0.9"/>
<ellipse cx="234.9" cy="142.7" rx="1.1" ry="1.9" transform="rotate(-29.7 234.9 142.7)" fill="#fff" stroke="#000" stroke-width="1" />
<polygon points="230.4,147.5 235.8,144.4 233.9,141.1 228.6,144.1" fill="#fff" stroke="none" stroke-width="0" />
<line x1="230.4" y1="147.5" x2="235.8" y2="144.4" stroke="#000" stroke-width="1"/>
<line x1="233.9" y1="141.1" x2="228.6" y2="144.1" stroke="#000" stroke-width="1"/>
<ellipse cx="229.5" cy="145.8" rx="1.1" ry="1.9" transform="rotate(-29.7 229.5 145.8)" fill="#fff" stroke="#000" stroke-width="1" />
<ellipse cx="229.5" cy="145.8" rx="1.1" ry="1.9" transform="rotate(-29.7 229.5 145.8)" fill="#fff" stroke="#000" stroke-width="1.6" />
<ellipse cx="303.7" cy="94.8" rx="6.6" ry="11.8" transform="rotate(-29.7 303.7 94.8)" fill="none" stroke="#000" stroke-width="1.5" />
<ellipse cx="350.1" cy="321.5" rx="2.1" ry="3.7" transform="rotate(-29.7 350.1 321.5)" fill="none" stroke="#000" stroke-width="1.3" />
<ellipse cx="311.9" cy="343" rx="2.1" ry="3.7" transform="rotate(-29.7 311.9 343)" fill="none" stroke="#000" stroke-width="1.3" />
<polygon points="326.2,336 328.4,334.8 326.2,330.9 324,332.2" fill="#000" stroke="#000" stroke-width="1" />
<polygon points="329.5,337.3 334.3,334.6 329.3,325.9 324.5,328.7" fill="#000" stroke="#000" stroke-width="1" />
<ellipse cx="327" cy="333" rx="2.8" ry="5" transform="rotate(-29.7 327 333)" fill="#000" stroke="#000" stroke-width="1" />
<polygon points="334.1,334.3 335.6,333.4 331.1,325.4 329.5,326.3" fill="#fff" stroke="#000" stroke-width="0.8" />
<polygon points="335.1,332.5 341.6,328.8 338.1,322.5 331.6,326.3" fill="#111" stroke="#000" stroke-width="1" />
<ellipse cx="339.9" cy="325.7" rx="2" ry="3.6" transform="rotate(-29.7 339.9 325.7)" fill="#333" stroke="#000" stroke-width="1" />
<ellipse cx="339.8" cy="343.3" rx="2.2" ry="3.9" transform="rotate(-29.7 339.8 343.3)" fill="#fff" stroke="#000" stroke-width="1" />
<polygon points="333.4,351.4 341.7,346.7 337.8,339.9 329.6,344.6" fill="#fff" stroke="none" stroke-width="0" />
<line x1="333.4" y1="351.4" x2="341.7" y2="346.7" stroke="#000" stroke-width="1"/>
<line x1="337.8" y1="339.9" x2="329.6" y2="344.6" stroke="#000" stroke-width="1"/>
<ellipse cx="331.5" cy="348" rx="2.2" ry="3.9" transform="rotate(-29.7 331.5 348)" fill="#fff" stroke="#000" stroke-width="1" />
<polygon points="194.4,482.3 195,483.3 194,485 194.4,485.9 196.6,486.6 197,487.7 195.6,488.8 195.9,489.8 198.2,491 198.5,492 196.8,492.6 197,493.6 199.2,495.3 199.3,496.3 197.3,496.3 197.4,497.2 199.5,499.3 199.5,500.3 197.4,499.7 197.3,500.5 199.2,503 199,503.9 196.8,502.8 196.6,503.4 198.3,506.2 197.9,506.8 195.7,505.2 195.4,505.8 196.7,508.6 196.3,509.1 194.1,507.1 193.7,507.5 194.6,510.4 194,510.7 192.1,508.3 191.5,508.4 192.1,511.3 191.4,511.4 189.7,508.7 189,508.7 189.2,511.4 188.4,511.2 187,508.4 186.3,508.2 186,510.6 185.2,510.2 184.1,507.3 183.4,506.9 182.7,508.9 181.8,508.4 181.2,505.5 180.4,505 179.3,506.6 178.5,505.9 178.3,503.2 177.6,502.5 176.1,503.5 175.4,502.7 175.6,500.2 174.9,499.4 173.2,499.9 172.5,498.9 173.1,496.9 172.6,496 170.6,495.9 170,494.8 171.1,493.2 170.6,492.2 168.4,491.6 168,490.5 169.4,489.4 169.1,488.4 166.9,487.2 166.5,486.1 168.3,485.5 168.1,484.6 165.9,482.9 165.7,481.9 167.7,481.9 167.6,481 165.5,478.8 165.5,477.9 167.6,478.4 167.7,477.6 165.8,475.2 166,474.3 168.2,475.4 168.4,474.8 166.7,472 167.1,471.3 169.3,472.9 169.6,472.4 168.3,469.5 168.8,469 170.9,471.1 171.4,470.7 170.4,467.8 171,467.5 172.9,469.9 173.5,469.7 172.9,466.9 173.6,466.8 175.4,469.5 176,469.5 175.9,466.8 176.6,466.9 178,469.8 178.8,470 179,467.6 179.9,467.9 180.9,470.9 181.6,471.2 182.4,469.2 183.2,469.8 183.8,472.6 184.6,473.2 185.7,471.6 186.5,472.3 186.7,475 187.4,475.7 188.9,474.7 189.6,475.5 189.4,478 190.1,478.8 191.8,478.3 192.5,479.2 191.9,481.3 192.4,482.2" fill="#fff" stroke="#000" stroke-width="0.8" />
<polygon points="178.1,519.8 194.6,510.4 170.4,467.8 153.9,477.2" fill="#fff" stroke="none" stroke-width="0" />
<line x1="177.9" y1="491.7" x2="194.4" y2="482.3" stroke="#000" stroke-width="0.8"/>
<line x1="178.5" y1="492.8" x2="195" y2="483.3" stroke="#000" stroke-width="0.8"/>
<line x1="177.7" y1="494.9" x2="194.2" y2="485.5" stroke="#000" stroke-width="1.5"/>
<line x1="180.1" y1="496" x2="196.6" y2="486.6" stroke="#000" stroke-width="0.8"/>
<line x1="180.5" y1="497.1" x2="197" y2="487.7" stroke="#000" stroke-width="0.8"/>
<line x1="179.3" y1="498.7" x2="195.8" y2="489.3" stroke="#000" stroke-width="1.5"/>
<line x1="181.7" y1="500.4" x2="198.2" y2="491" stroke="#000" stroke-width="0.8"/>
<line x1="182" y1="501.5" x2="198.5" y2="492" stroke="#000" stroke-width="0.8"/>
<line x1="180.3" y1="502.5" x2="196.9" y2="493.1" stroke="#000" stroke-width="1.5"/>
<line x1="182.7" y1="504.7" x2="199.2" y2="495.3" stroke="#000" stroke-width="0.8"/>
<line x1="182.8" y1="505.7" x2="199.3" y2="496.3" stroke="#000" stroke-width="0.8"/>
<line x1="180.9" y1="506.2" x2="197.4" y2="496.8" stroke="#000" stroke-width="1.5"/>
<line x1="183" y1="508.7" x2="199.5" y2="499.3" stroke="#000" stroke-width="0.8"/>
<line x1="183" y1="509.7" x2="199.5" y2="500.3" stroke="#000" stroke-width="0.8"/>
<line x1="180.8" y1="509.6" x2="197.3" y2="500.1" stroke="#000" stroke-width="1.5"/>
<line x1="182.7" y1="512.4" x2="199.2" y2="503" stroke="#000" stroke-width="0.8"/>
<line x1="182.5" y1="513.3" x2="199" y2="503.9" stroke="#000" stroke-width="0.8"/>
<line x1="180.2" y1="512.5" x2="196.7" y2="503.1" stroke="#000" stroke-width="1.5"/>
<line x1="181.8" y1="515.6" x2="198.3" y2="506.2" stroke="#000" stroke-width="0.8"/>
<line x1="181.4" y1="516.3" x2="197.9" y2="506.8" stroke="#000" stroke-width="0.8"/>
<line x1="179.1" y1="514.9" x2="195.6" y2="505.5" stroke="#000" stroke-width="1.5"/>
<line x1="180.2" y1="518.1" x2="196.7" y2="508.6" stroke="#000" stroke-width="0.8"/>
<line x1="179.8" y1="518.6" x2="196.3" y2="509.1" stroke="#000" stroke-width="0.8"/>
<line x1="177.4" y1="516.7" x2="193.9" y2="507.3" stroke="#000" stroke-width="1.5"/>
<line x1="178.1" y1="519.8" x2="194.6" y2="510.4" stroke="#000" stroke-width="0.8"/>
<line x1="177.5" y1="520.1" x2="194" y2="510.7" stroke="#000" stroke-width="0.8"/>
<line x1="153.9" y1="477.2" x2="170.4" y2="467.8" stroke="#000" stroke-width="0.8"/>
<line x1="154.5" y1="476.9" x2="171" y2="467.5" stroke="#000" stroke-width="0.8"/>
<line x1="156.7" y1="479.2" x2="173.2" y2="469.8" stroke="#000" stroke-width="1.5"/>
<line x1="156.4" y1="476.3" x2="172.9" y2="466.9" stroke="#000" stroke-width="0.8"/>
<line x1="157.1" y1="476.2" x2="173.6" y2="466.8" stroke="#000" stroke-width="0.8"/>
<line x1="159.2" y1="478.9" x2="175.7" y2="469.5" stroke="#000" stroke-width="1.5"/>
<line x1="159.4" y1="476.2" x2="175.9" y2="466.8" stroke="#000" stroke-width="0.8"/>
<line x1="160.1" y1="476.4" x2="176.6" y2="466.9" stroke="#000" stroke-width="0.8"/>
<line x1="161.9" y1="479.3" x2="178.4" y2="469.9" stroke="#000" stroke-width="1.5"/>
<line x1="162.5" y1="477" x2="179" y2="467.6" stroke="#000" stroke-width="0.8"/>
<line x1="163.4" y1="477.4" x2="179.9" y2="467.9" stroke="#000" stroke-width="0.8"/>
<line x1="164.8" y1="480.5" x2="181.3" y2="471.1" stroke="#000" stroke-width="1.5"/>
<line x1="165.8" y1="478.6" x2="182.4" y2="469.2" stroke="#000" stroke-width="0.8"/>
<line x1="166.7" y1="479.2" x2="183.2" y2="469.8" stroke="#000" stroke-width="0.8"/>
<line x1="167.7" y1="482.3" x2="184.2" y2="472.9" stroke="#000" stroke-width="1.5"/>
<line x1="169.2" y1="481" x2="185.7" y2="471.6" stroke="#000" stroke-width="0.8"/>
<line x1="170" y1="481.7" x2="186.5" y2="472.3" stroke="#000" stroke-width="0.8"/>
<line x1="170.6" y1="484.8" x2="187.1" y2="475.4" stroke="#000" stroke-width="1.5"/>
<line x1="172.4" y1="484.1" x2="188.9" y2="474.7" stroke="#000" stroke-width="0.8"/>
<line x1="173.1" y1="484.9" x2="189.6" y2="475.5" stroke="#000" stroke-width="0.8"/>
<line x1="173.2" y1="487.8" x2="189.7" y2="478.4" stroke="#000" stroke-width="1.5"/>
<line x1="175.3" y1="487.7" x2="191.8" y2="478.3" stroke="#000" stroke-width="0.8"/>
<line x1="176" y1="488.7" x2="192.5" y2="479.2" stroke="#000" stroke-width="0.8"/>
<line x1="175.6" y1="491.2" x2="192.2" y2="481.8" stroke="#000" stroke-width="1.5"/>
<polygon points="177.9,491.7 178.5,492.8 177.5,494.4 177.9,495.3 180.1,496 180.5,497.1 179.1,498.2 179.4,499.2 181.7,500.4 182,501.5 180.2,502 180.4,503 182.7,504.7 182.8,505.7 180.8,505.7 180.9,506.6 183,508.7 183,509.7 180.9,509.2 180.8,510 182.7,512.4 182.5,513.3 180.3,512.2 180.1,512.8 181.8,515.6 181.4,516.3 179.2,514.6 178.9,515.2 180.2,518.1 179.8,518.6 177.6,516.5 177.1,516.9 178.1,519.8 177.5,520.1 175.6,517.7 175,517.9 175.6,520.7 174.9,520.8 173.2,518.1 172.5,518.1 172.6,520.8 171.9,520.6 170.5,517.8 169.8,517.6 169.5,520 168.6,519.6 167.6,516.7 166.9,516.3 166.2,518.4 165.3,517.8 164.7,515 163.9,514.4 162.8,516 162,515.3 161.8,512.6 161.1,511.9 159.6,512.9 158.9,512.1 159.1,509.6 158.4,508.8 156.7,509.3 156,508.3 156.6,506.3 156.1,505.4 154.1,505.3 153.5,504.2 154.5,502.6 154.1,501.7 151.9,501 151.5,499.9 152.9,498.8 152.6,497.8 150.3,496.6 150,495.5 151.8,495 151.6,494 149.3,492.3 149.2,491.3 151.2,491.3 151.1,490.4 149,488.3 149,487.3 151.1,487.8 151.2,487 149.3,484.6 149.5,483.7 151.7,484.8 151.9,484.2 150.2,481.4 150.6,480.7 152.8,482.4 153.1,481.8 151.8,478.9 152.2,478.4 154.4,480.5 154.9,480.1 153.9,477.2 154.5,476.9 156.4,479.3 157,479.1 156.4,476.3 157.1,476.2 158.8,478.9 159.5,478.9 159.4,476.2 160.1,476.4 161.5,479.2 162.2,479.4 162.5,477 163.4,477.4 164.4,480.3 165.1,480.7 165.8,478.6 166.7,479.2 167.3,482 168.1,482.6 169.2,481 170,481.7 170.2,484.4 170.9,485.1 172.4,484.1 173.1,484.9 172.9,487.4 173.6,488.2 175.3,487.7 176,488.7 175.4,490.7 175.9,491.6" fill="#fff" stroke="#000" stroke-width="1.1" />
<ellipse cx="166" cy="498.5" rx="11.2" ry="20" transform="rotate(-29.7 166 498.5)" fill="#fff" stroke="#000" stroke-width="1" />
<ellipse cx="166" cy="498.5" rx="10.2" ry="18.3" transform="rotate(-29.7 166 498.5)" fill="#fff" stroke="#000" stroke-width="1.4" />
<ellipse cx="166.6" cy="498.2" rx="8.8" ry="15.8" transform="rotate(-29.7 166.6 498.2)" fill="#fff" stroke="#000" stroke-width="1.2" />
<polyline points="173,511.1 172.4,511 171.8,510.9 171.1,510.7 170.5,510.5 169.9,510.2 169.2,509.9 168.6,509.5 168,509.1 167.3,508.6 166.7,508.1 166.1,507.6 165.4,507 164.8,506.4 164.2,505.8 163.7,505.1 163.1,504.4 162.6,503.6 162,502.9 161.5,502.1 161.1,501.3 160.6,500.5 160.2,499.7 159.8,498.8 159.5,498 159.1,497.2 158.9,496.3 158.6,495.5 158.4,494.6 158.2,493.8 158.1,493 157.9,492.2 157.9,491.4 157.8,490.7 157.9,489.9 157.9,489.2 158,488.5 158.1,487.8 158.3,487.2 158.5,486.6 158.7,486.1" fill="none" stroke="#000" stroke-width="1.6" />
<polyline points="175.5,509.4 174.9,509.4 174.3,509.2 173.7,509.1 173.1,508.8 172.5,508.6 171.8,508.2 171.2,507.9 170.6,507.5 169.9,507 169.3,506.5 168.7,506 168.1,505.4 167.5,504.8 166.9,504.2 166.3,503.5 165.8,502.8 165.2,502.1 164.7,501.3 164.2,500.6 163.8,499.8 163.3,499 162.9,498.2 162.5,497.3 162.2,496.5 161.9,495.7 161.6,494.8 161.3,494 161.1,493.2 160.9,492.4 160.8,491.6 160.7,490.8 160.6,490 160.6,489.2 160.6,488.5 160.6,487.8 160.7,487.1 160.8,486.5 161,485.9 161.2,485.3 161.4,484.7" fill="none" stroke="#000" stroke-width="1.2" />
<polyline points="178,507.7 177.5,507.6 176.9,507.5 176.3,507.3 175.7,507.1 175.1,506.8 174.4,506.5 173.8,506.1 173.2,505.7 172.6,505.3 172,504.8 171.4,504.3 170.8,503.7 170.2,503.1 169.6,502.5 169,501.9 168.5,501.2 168,500.5 167.5,499.7 167,499 166.5,498.2 166.1,497.4 165.7,496.6 165.3,495.8 165,495 164.7,494.2 164.4,493.4 164.1,492.6 163.9,491.7 163.7,490.9 163.6,490.2 163.5,489.4 163.4,488.6 163.4,487.9 163.4,487.2 163.5,486.5 163.5,485.8 163.7,485.2 163.8,484.6 164,484 164.2,483.5" fill="none" stroke="#000" stroke-width="1.0" />
<polyline points="248.2,436.3 248.4,435.2 248.7,434.2 249.1,433.3 249.6,432.5 250.2,431.8 250.8,431.3 251.6,430.8 252.4,430.5 253.3,430.4 254.2,430.3 255.1,430.4 256.1,430.6 257.2,431 258.2,431.4 259.3,432 260.3,432.8 261.4,433.6 262.4,434.5 263.4,435.5 264.4,436.6 265.3,437.8 266.1,439.1 266.9,440.4 267.7,441.7 268.3,443.1 268.9,444.5 269.3,445.8 269.7,447.2 270,448.6 270.2,449.9 270.3,451.2 270.3,452.4 270.2,453.6 270,454.7 269.7,455.6 269.3,456.5 268.8,457.3 268.2,458 267.5,458.5 266.8,459 266,459.3 265.1,459.4 264.2,459.5 263.2,459.4 262.2,459.2 261.2,458.8 260.1,458.3 259.1,457.7 258,457 257,456.2 256,455.3 255,454.2 254,453.1 253.1,451.9 252.2,450.7 251.4,449.4 250.7,448.1 250.1,446.7 249.5,445.3 249,443.9" fill="none" stroke="#000" stroke-width="1.6" />
<polyline points="249.3,437.1 249.5,436.2 249.8,435.3 250.1,434.5 250.6,433.7 251.1,433.1 251.7,432.6 252.3,432.2 253.1,432 253.8,431.8 254.7,431.8 255.5,431.8 256.4,432 257.4,432.4 258.3,432.8 259.3,433.3 260.2,434 261.2,434.7 262.1,435.5 263,436.5 263.8,437.5 264.7,438.5 265.4,439.6 266.2,440.8 266.8,442 267.4,443.3 267.9,444.5 268.3,445.8 268.7,447 268.9,448.2 269.1,449.4 269.2,450.6 269.2,451.7 269.1,452.7 268.9,453.7 268.6,454.6 268.3,455.4 267.8,456.1 267.3,456.7 266.7,457.2 266,457.6 265.3,457.8 264.5,458 263.7,458 262.8,457.9 261.9,457.7 261,457.4 260.1,457 259.1,456.5 258.1,455.8 257.2,455.1 256.3,454.2 255.4,453.3 254.5,452.3 253.7,451.2 252.9,450.1 252.2,448.9 251.6,447.7 251,446.5 250.5,445.3 250.1,444" fill="none" stroke="#000" stroke-width="0.7" />
<polyline points="274,422 274.2,420.9 274.5,419.9 274.9,419 275.4,418.2 276,417.5 276.6,417 277.4,416.5 278.2,416.2 279.1,416.1 280,416 280.9,416.1 281.9,416.3 283,416.7 284,417.1 285.1,417.7 286.1,418.5 287.2,419.3 288.2,420.2 289.2,421.2 290.2,422.3 291.1,423.5 291.9,424.8 292.7,426.1 293.5,427.4 294.1,428.8 294.7,430.2 295.1,431.5 295.5,432.9 295.8,434.3 296,435.6 296.1,436.9 296.1,438.1 296,439.3 295.8,440.4 295.5,441.3 295.1,442.2 294.6,443 294,443.7 293.3,444.2 292.6,444.7 291.8,445 290.9,445.1 290,445.2 289,445.1 288,444.9 287,444.5 285.9,444 284.9,443.4 283.8,442.7 282.8,441.9 281.8,441 280.8,439.9 279.8,438.8 278.9,437.6 278,436.4 277.2,435.1 276.5,433.8 275.9,432.4 275.3,431 274.8,429.6" fill="none" stroke="#000" stroke-width="1.6" />
<polyline points="275.1,422.8 275.3,421.9 275.6,421 275.9,420.2 276.4,419.4 276.9,418.8 277.5,418.3 278.1,417.9 278.9,417.7 279.6,417.5 280.5,417.5 281.3,417.5 282.2,417.7 283.2,418.1 284.1,418.5 285.1,419 286,419.7 287,420.4 287.9,421.2 288.8,422.2 289.6,423.2 290.5,424.2 291.2,425.3 292,426.5 292.6,427.7 293.2,429 293.7,430.2 294.1,431.5 294.5,432.7 294.7,433.9 294.9,435.1 295,436.3 295,437.4 294.9,438.4 294.7,439.4 294.4,440.3 294.1,441.1 293.6,441.8 293.1,442.4 292.5,442.9 291.8,443.3 291.1,443.5 290.3,443.7 289.5,443.7 288.6,443.6 287.7,443.4 286.8,443.1 285.9,442.7 284.9,442.2 283.9,441.5 283,440.8 282.1,439.9 281.2,439 280.3,438 279.5,436.9 278.7,435.8 278,434.6 277.4,433.4 276.8,432.2 276.3,431 275.9,429.7" fill="none" stroke="#000" stroke-width="0.7" />
<polygon points="320,513.3 320.5,514.4 319.5,516 319.9,516.9 322.1,517.5 322.5,518.6 321,519.7 321.3,520.6 323.6,521.8 323.8,522.9 322.1,523.4 322.2,524.3 324.4,526 324.6,527 322.5,526.9 322.6,527.7 324.6,529.9 324.6,530.8 322.4,530.1 322.3,530.8 324.2,533.4 323.9,534.2 321.7,532.8 321.4,533.4 323,536.2 322.6,536.8 320.4,535 320.1,535.5 321.3,538.4 320.7,538.8 318.7,536.5 318.2,536.8 319,539.7 318.3,539.9 316.5,537.3 315.9,537.3 316.2,540.1 315.5,540.1 314,537.2 313.3,537.1 313.2,539.6 312.4,539.4 311.3,536.5 310.6,536.1 310,538.3 309.2,537.8 308.4,534.9 307.7,534.4 306.7,536.1 305.9,535.5 305.6,532.7 305,532.1 303.6,533.2 302.8,532.4 303,530 302.4,529.2 300.6,529.7 300,528.8 300.6,526.7 300.1,525.9 298.1,525.8 297.5,524.8 298.6,523.2 298.2,522.3 296,521.6 295.6,520.5 297,519.5 296.7,518.5 294.5,517.3 294.2,516.3 296,515.8 295.8,514.9 293.6,513.1 293.5,512.1 295.5,512.3 295.5,511.4 293.4,509.2 293.5,508.3 295.6,509 295.8,508.3 293.9,505.8 294.1,505 296.4,506.3 296.6,505.7 295.1,502.9 295.4,502.3 297.6,504.1 298,503.7 296.8,500.8 297.3,500.4 299.4,502.6 299.9,502.4 299.1,499.5 299.7,499.3 301.6,501.9 302.2,501.8 301.8,499.1 302.6,499.1 304.1,501.9 304.7,502 304.9,499.5 305.6,499.8 306.8,502.7 307.5,503 308.1,500.9 308.9,501.3 309.6,504.2 310.3,504.7 311.3,503 312.1,503.7 312.4,506.4 313.1,507.1 314.5,505.9 315.3,506.7 315.1,509.2 315.7,510 317.4,509.4 318.1,510.4 317.5,512.4 318,513.3" fill="#fff" stroke="#000" stroke-width="0.8" />
<polygon points="307.1,546.5 320.2,539.1 297.9,500 284.9,507.5" fill="#fff" stroke="none" stroke-width="0" />
<line x1="306.9" y1="520.8" x2="320" y2="513.3" stroke="#000" stroke-width="0.8"/>
<line x1="307.5" y1="521.8" x2="320.5" y2="514.4" stroke="#000" stroke-width="0.8"/>
<line x1="306.7" y1="523.8" x2="319.7" y2="516.4" stroke="#000" stroke-width="1.5"/>
<line x1="309" y1="525" x2="322.1" y2="517.5" stroke="#000" stroke-width="0.8"/>
<line x1="309.5" y1="526" x2="322.5" y2="518.6" stroke="#000" stroke-width="0.8"/>
<line x1="308.2" y1="527.6" x2="321.2" y2="520.1" stroke="#000" stroke-width="1.5"/>
<line x1="310.5" y1="529.3" x2="323.6" y2="521.8" stroke="#000" stroke-width="0.8"/>
<line x1="310.8" y1="530.3" x2="323.8" y2="522.9" stroke="#000" stroke-width="0.8"/>
<line x1="309.1" y1="531.2" x2="322.2" y2="523.8" stroke="#000" stroke-width="1.5"/>
<line x1="311.4" y1="533.4" x2="324.4" y2="526" stroke="#000" stroke-width="0.8"/>
<line x1="311.5" y1="534.5" x2="324.6" y2="527" stroke="#000" stroke-width="0.8"/>
<line x1="309.5" y1="534.7" x2="322.6" y2="527.3" stroke="#000" stroke-width="1.5"/>
<line x1="311.6" y1="537.4" x2="324.6" y2="529.9" stroke="#000" stroke-width="0.8"/>
<line x1="311.5" y1="538.3" x2="324.6" y2="530.8" stroke="#000" stroke-width="0.8"/>
<line x1="309.3" y1="537.9" x2="322.4" y2="530.5" stroke="#000" stroke-width="1.5"/>
<line x1="311.1" y1="540.8" x2="324.2" y2="533.4" stroke="#000" stroke-width="0.8"/>
<line x1="310.9" y1="541.6" x2="323.9" y2="534.2" stroke="#000" stroke-width="0.8"/>
<line x1="308.6" y1="540.6" x2="321.6" y2="533.2" stroke="#000" stroke-width="1.5"/>
<line x1="310" y1="543.7" x2="323" y2="536.2" stroke="#000" stroke-width="0.8"/>
<line x1="309.6" y1="544.3" x2="322.6" y2="536.8" stroke="#000" stroke-width="0.8"/>
<line x1="307.2" y1="542.7" x2="320.3" y2="535.2" stroke="#000" stroke-width="1.5"/>
<line x1="308.2" y1="545.8" x2="321.3" y2="538.4" stroke="#000" stroke-width="0.8"/>
<line x1="307.7" y1="546.2" x2="320.7" y2="538.8" stroke="#000" stroke-width="0.8"/>
<line x1="305.4" y1="544.1" x2="318.4" y2="536.6" stroke="#000" stroke-width="1.5"/>
<line x1="286.6" y1="509.9" x2="299.6" y2="502.5" stroke="#000" stroke-width="1.5"/>
<line x1="286.1" y1="506.9" x2="299.1" y2="499.5" stroke="#000" stroke-width="0.8"/>
<line x1="286.7" y1="506.7" x2="299.7" y2="499.3" stroke="#000" stroke-width="0.8"/>
<line x1="288.8" y1="509.3" x2="301.9" y2="501.8" stroke="#000" stroke-width="1.5"/>
<line x1="288.8" y1="506.5" x2="301.8" y2="499.1" stroke="#000" stroke-width="0.8"/>
<line x1="289.5" y1="506.5" x2="302.6" y2="499.1" stroke="#000" stroke-width="0.8"/>
<line x1="291.4" y1="509.4" x2="304.4" y2="502" stroke="#000" stroke-width="1.5"/>
<line x1="291.8" y1="507" x2="304.9" y2="499.5" stroke="#000" stroke-width="0.8"/>
<line x1="292.6" y1="507.2" x2="305.6" y2="499.8" stroke="#000" stroke-width="0.8"/>
<line x1="294.1" y1="510.3" x2="307.1" y2="502.8" stroke="#000" stroke-width="1.5"/>
<line x1="295" y1="508.3" x2="308.1" y2="500.9" stroke="#000" stroke-width="0.8"/>
<line x1="295.9" y1="508.8" x2="308.9" y2="501.3" stroke="#000" stroke-width="0.8"/>
<line x1="296.9" y1="511.9" x2="310" y2="504.5" stroke="#000" stroke-width="1.5"/>
<line x1="298.3" y1="510.5" x2="311.3" y2="503" stroke="#000" stroke-width="0.8"/>
<line x1="299.1" y1="511.1" x2="312.1" y2="503.7" stroke="#000" stroke-width="0.8"/>
<line x1="299.7" y1="514.2" x2="312.8" y2="506.7" stroke="#000" stroke-width="1.5"/>
<line x1="301.5" y1="513.3" x2="314.5" y2="505.9" stroke="#000" stroke-width="0.8"/>
<line x1="302.2" y1="514.2" x2="315.3" y2="506.7" stroke="#000" stroke-width="0.8"/>
<line x1="302.4" y1="517" x2="315.4" y2="509.6" stroke="#000" stroke-width="1.5"/>
<line x1="304.4" y1="516.8" x2="317.4" y2="509.4" stroke="#000" stroke-width="0.8"/>
<line x1="305.1" y1="517.8" x2="318.1" y2="510.4" stroke="#000" stroke-width="0.8"/>
<line x1="304.7" y1="520.3" x2="317.7" y2="512.9" stroke="#000" stroke-width="1.5"/>
<polygon points="306.9,520.8 307.5,521.8 306.4,523.4 306.9,524.3 309,525 309.5,526 308,527.1 308.3,528 310.5,529.3 310.8,530.3 309,530.8 309.2,531.7 311.4,533.4 311.5,534.5 309.5,534.3 309.5,535.2 311.6,537.4 311.5,538.3 309.4,537.5 309.3,538.3 311.1,540.8 310.9,541.6 308.7,540.3 308.4,540.9 310,543.7 309.6,544.3 307.4,542.4 307,542.9 308.2,545.8 307.7,546.2 305.7,543.9 305.1,544.2 305.9,547.1 305.3,547.3 303.5,544.7 302.9,544.8 303.2,547.5 302.5,547.5 301,544.7 300.3,544.5 300.2,547 299.4,546.8 298.2,543.9 297.5,543.6 297,545.7 296.1,545.2 295.4,542.4 294.7,541.9 293.7,543.5 292.9,542.9 292.6,540.2 291.9,539.5 290.5,540.7 289.8,539.8 290,537.4 289.3,536.6 287.6,537.2 286.9,536.2 287.6,534.1 287,533.3 285.1,533.2 284.5,532.2 285.6,530.6 285.1,529.7 283,529 282.5,528 284,526.9 283.7,526 281.5,524.7 281.2,523.7 283,523.2 282.8,522.3 280.6,520.6 280.5,519.5 282.5,519.7 282.5,518.8 280.4,516.6 280.5,515.7 282.6,516.5 282.7,515.7 280.9,513.2 281.1,512.4 283.3,513.7 283.6,513.1 282,510.3 282.4,509.7 284.6,511.6 285,511.1 283.8,508.2 284.3,507.8 286.3,510.1 286.9,509.8 286.1,506.9 286.7,506.7 288.5,509.3 289.1,509.2 288.8,506.5 289.5,506.5 291,509.3 291.7,509.5 291.8,507 292.6,507.2 293.8,510.1 294.5,510.4 295,508.3 295.9,508.8 296.6,511.6 297.3,512.1 298.3,510.5 299.1,511.1 299.4,513.8 300.1,514.5 301.5,513.3 302.2,514.2 302,516.6 302.7,517.4 304.4,516.8 305.1,517.8 304.4,519.9 305,520.7" fill="#fff" stroke="#000" stroke-width="1.1" />
<ellipse cx="296" cy="527" rx="10.4" ry="18.5" transform="rotate(-29.7 296 527)" fill="#fff" stroke="#000" stroke-width="1" />
<ellipse cx="293.7" cy="527.5" rx="7.8" ry="14" transform="rotate(-29.7 293.7 527.5)" fill="#fff" stroke="#000" stroke-width="1" />
<polygon points="295.4,542.7 300.6,539.7 286.8,515.4 281.6,518.3" fill="#fff" stroke="none" stroke-width="0" />
<line x1="295.4" y1="542.7" x2="300.6" y2="539.7" stroke="#000" stroke-width="1"/>
<line x1="286.8" y1="515.4" x2="281.6" y2="518.3" stroke="#000" stroke-width="1"/>
<ellipse cx="288.5" cy="530.5" rx="7.8" ry="14" transform="rotate(-29.7 288.5 530.5)" fill="#fff" stroke="#000" stroke-width="1" />
<ellipse cx="288.6" cy="530.5" rx="6.4" ry="11.5" transform="rotate(-29.7 288.6 530.5)" fill="#fff" stroke="#000" stroke-width="1" />
<polygon points="288.2,544 294.3,540.5 282.9,520.5 276.8,524" fill="#fff" stroke="none" stroke-width="0" />
<line x1="288.2" y1="544" x2="294.3" y2="540.5" stroke="#000" stroke-width="1"/>
<line x1="282.9" y1="520.5" x2="276.8" y2="524" stroke="#000" stroke-width="1"/>
<ellipse cx="282.5" cy="534" rx="6.4" ry="11.5" transform="rotate(-29.7 282.5 534)" fill="#fff" stroke="#000" stroke-width="1" />
<ellipse cx="282.5" cy="534" rx="6.4" ry="11.5" transform="rotate(-29.7 282.5 534)" fill="#fff" stroke="#000" stroke-width="1.5" />
<ellipse cx="282.5" cy="534" rx="5.3" ry="9.5" transform="rotate(-29.7 282.5 534)" fill="#fff" stroke="#000" stroke-width="1.4" />
<line x1="287.1" y1="531.4" x2="287.4" y2="531.2" stroke="#000" stroke-width="1.3"/>
<line x1="288.6" y1="534.7" x2="288.5" y2="533.5" stroke="#000" stroke-width="1.3"/>
<line x1="289.1" y1="538" x2="288.8" y2="535.8" stroke="#000" stroke-width="1.3"/>
<line x1="288.6" y1="540.6" x2="288.5" y2="537.6" stroke="#000" stroke-width="1.3"/>
<line x1="287.2" y1="542.3" x2="287.5" y2="538.7" stroke="#000" stroke-width="1.3"/>
<line x1="285.1" y1="542.6" x2="286" y2="539" stroke="#000" stroke-width="1.3"/>
<line x1="282.6" y1="541.7" x2="284.3" y2="538.4" stroke="#000" stroke-width="1.3"/>
<line x1="280" y1="539.6" x2="282.5" y2="536.9" stroke="#000" stroke-width="1.3"/>
<line x1="277.9" y1="536.6" x2="281" y2="534.8" stroke="#000" stroke-width="1.3"/>
<line x1="276.4" y1="533.3" x2="280" y2="532.5" stroke="#000" stroke-width="1.3"/>
<line x1="275.9" y1="530" x2="279.7" y2="530.2" stroke="#000" stroke-width="1.3"/>
<line x1="276.4" y1="527.4" x2="280" y2="528.4" stroke="#000" stroke-width="1.3"/>
<line x1="277.8" y1="525.7" x2="281" y2="527.3" stroke="#000" stroke-width="1.3"/>
<line x1="279.9" y1="525.4" x2="282.4" y2="527" stroke="#000" stroke-width="1.3"/>
<line x1="282.4" y1="526.3" x2="284.2" y2="527.7" stroke="#000" stroke-width="1.3"/>
<line x1="285" y1="528.4" x2="286" y2="529.1" stroke="#000" stroke-width="1.3"/>
<ellipse cx="284.2" cy="533" rx="3.7" ry="6.6" transform="rotate(-29.7 284.2 533)" fill="none" stroke="#000" stroke-width="1.1" />
<ellipse cx="345.5" cy="498.3" rx="9.2" ry="14.8" transform="rotate(-29.7 345.5 498.3)" fill="#fff" stroke="#000" stroke-width="1.2" />
<polygon points="347.2,516.3 352.9,511.2 338.2,485.4 330.8,487.7" fill="#fff" stroke="none" stroke-width="0" />
<line x1="347.2" y1="516.3" x2="352.9" y2="511.2" stroke="#000" stroke-width="1.2"/>
<line x1="338.2" y1="485.4" x2="330.8" y2="487.7" stroke="#000" stroke-width="1.2"/>
<line x1="331.7" y1="487.3" x2="338.9" y2="485" stroke="#000" stroke-width="1.1"/>
<line x1="333.6" y1="486.8" x2="340.6" y2="484.6" stroke="#000" stroke-width="1.1"/>
<line x1="335.6" y1="486.9" x2="342.5" y2="484.7" stroke="#000" stroke-width="1.1"/>
<line x1="337.8" y1="487.5" x2="344.5" y2="485.2" stroke="#000" stroke-width="1.1"/>
<line x1="340.1" y1="488.6" x2="346.5" y2="486.2" stroke="#000" stroke-width="1.1"/>
<line x1="342.2" y1="490.1" x2="348.4" y2="487.6" stroke="#000" stroke-width="1.1"/>
<line x1="344.3" y1="492.1" x2="350.3" y2="489.4" stroke="#000" stroke-width="1.1"/>
<line x1="346.2" y1="494.4" x2="352" y2="491.4" stroke="#000" stroke-width="1.1"/>
<line x1="347.9" y1="496.9" x2="353.5" y2="493.7" stroke="#000" stroke-width="1.1"/>
<line x1="349.2" y1="499.7" x2="354.7" y2="496.2" stroke="#000" stroke-width="1.1"/>
<line x1="350.2" y1="502.5" x2="355.6" y2="498.7" stroke="#000" stroke-width="1.1"/>
<line x1="350.9" y1="505.2" x2="356.2" y2="501.2" stroke="#000" stroke-width="1.1"/>
<line x1="351.1" y1="507.9" x2="356.4" y2="503.6" stroke="#000" stroke-width="1.1"/>
<line x1="350.9" y1="510.4" x2="356.2" y2="505.8" stroke="#000" stroke-width="1.1"/>
<line x1="350.3" y1="512.6" x2="355.7" y2="507.8" stroke="#000" stroke-width="1.1"/>
<line x1="349.3" y1="514.4" x2="354.8" y2="509.5" stroke="#000" stroke-width="1.1"/>
<line x1="347.9" y1="515.8" x2="353.6" y2="510.7" stroke="#000" stroke-width="1.1"/>
<ellipse cx="339" cy="502" rx="10.2" ry="16.5" transform="rotate(-29.7 339 502)" fill="#fff" stroke="#000" stroke-width="2.6" />
<ellipse cx="339" cy="502" rx="8.2" ry="13.2" transform="rotate(-29.7 339 502)" fill="#fff" stroke="#000" stroke-width="1.6" />
<polyline points="345.9,511.7 345.4,512 344.9,512.2 344.3,512.3 343.7,512.3 343,512.3 342.4,512.3 341.7,512.1 341,511.9 340.4,511.6 339.7,511.3 339,510.9 338.3,510.4 337.7,509.9 337,509.3 336.4,508.7 335.8,508.1 335.2,507.4 334.6,506.6 334.1,505.9 333.6,505.1 333.2,504.2 332.8,503.4 332.4,502.5 332.1,501.7 331.9,500.8 331.7,500 331.5,499.1 331.4,498.3 331.4,497.5 331.4,496.7 331.4,495.9 331.5,495.2 331.7,494.5 331.9,493.9 332.2,493.3 332.5,492.7 332.8,492.2 333.2,491.8 333.7,491.4 334.2,491.1" fill="none" stroke="#000" stroke-width="1" />
<ellipse cx="239.6" cy="455" rx="8.4" ry="13.5" transform="rotate(-29.7 239.6 455)" fill="#fff" stroke="#000" stroke-width="1.2" />
<polygon points="240.9,471.5 246.3,466.8 232.9,443.3 226.1,445.5" fill="#fff" stroke="none" stroke-width="0" />
<line x1="240.9" y1="471.5" x2="246.3" y2="466.8" stroke="#000" stroke-width="1.2"/>
<line x1="232.9" y1="443.3" x2="226.1" y2="445.5" stroke="#000" stroke-width="1.2"/>
<line x1="226.8" y1="445.1" x2="233.6" y2="443" stroke="#000" stroke-width="1.1"/>
<line x1="228.6" y1="444.7" x2="235.1" y2="442.6" stroke="#000" stroke-width="1.1"/>
<line x1="230.4" y1="444.8" x2="236.8" y2="442.7" stroke="#000" stroke-width="1.1"/>
<line x1="232.4" y1="445.3" x2="238.6" y2="443.2" stroke="#000" stroke-width="1.1"/>
<line x1="234.5" y1="446.3" x2="240.4" y2="444.1" stroke="#000" stroke-width="1.1"/>
<line x1="236.5" y1="447.7" x2="242.2" y2="445.3" stroke="#000" stroke-width="1.1"/>
<line x1="238.3" y1="449.5" x2="243.9" y2="446.9" stroke="#000" stroke-width="1.1"/>
<line x1="240.1" y1="451.6" x2="245.5" y2="448.8" stroke="#000" stroke-width="1.1"/>
<line x1="241.6" y1="453.9" x2="246.9" y2="450.9" stroke="#000" stroke-width="1.1"/>
<line x1="242.8" y1="456.4" x2="248" y2="453.1" stroke="#000" stroke-width="1.1"/>
<line x1="243.7" y1="458.9" x2="248.8" y2="455.4" stroke="#000" stroke-width="1.1"/>
<line x1="244.3" y1="461.5" x2="249.3" y2="457.7" stroke="#000" stroke-width="1.1"/>
<line x1="244.5" y1="463.9" x2="249.5" y2="459.9" stroke="#000" stroke-width="1.1"/>
<line x1="244.3" y1="466.1" x2="249.3" y2="461.9" stroke="#000" stroke-width="1.1"/>
<line x1="243.7" y1="468.1" x2="248.8" y2="463.7" stroke="#000" stroke-width="1.1"/>
<line x1="242.8" y1="469.8" x2="248" y2="465.2" stroke="#000" stroke-width="1.1"/>
<line x1="241.6" y1="471.1" x2="246.9" y2="466.3" stroke="#000" stroke-width="1.1"/>
<ellipse cx="233.5" cy="458.5" rx="9.3" ry="15" transform="rotate(-29.7 233.5 458.5)" fill="#fff" stroke="#000" stroke-width="2.6" />
<ellipse cx="233.5" cy="458.5" rx="7.4" ry="12" transform="rotate(-29.7 233.5 458.5)" fill="#fff" stroke="#000" stroke-width="1.6" />
<polyline points="239.9,467.3 239.4,467.5 238.9,467.7 238.4,467.8 237.8,467.9 237.3,467.8 236.7,467.8 236.1,467.6 235.4,467.4 234.8,467.2 234.2,466.9 233.6,466.5 233,466.1 232.4,465.6 231.8,465.1 231.2,464.6 230.7,464 230.1,463.3 229.6,462.6 229.2,461.9 228.7,461.2 228.3,460.5 228,459.7 227.6,458.9 227.4,458.2 227.1,457.4 226.9,456.6 226.8,455.8 226.7,455.1 226.6,454.3 226.6,453.6 226.7,452.9 226.8,452.3 226.9,451.6 227.1,451.1 227.4,450.5 227.7,450 228,449.6 228.4,449.2 228.8,448.8 229.2,448.5" fill="none" stroke="#000" stroke-width="1" />
<ellipse cx="331.7" cy="78.5" rx="7.8" ry="12.6" transform="rotate(-29.7 331.7 78.5)" fill="#fff" stroke="#000" stroke-width="1.2" />
<polygon points="333.4,93.7 338,89.5 325.5,67.6 319.6,69.3" fill="#fff" stroke="none" stroke-width="0" />
<line x1="333.4" y1="93.7" x2="338" y2="89.5" stroke="#000" stroke-width="1.2"/>
<line x1="325.5" y1="67.6" x2="319.6" y2="69.3" stroke="#000" stroke-width="1.2"/>
<line x1="320.3" y1="69" x2="326.1" y2="67.3" stroke="#000" stroke-width="1.1"/>
<line x1="321.9" y1="68.6" x2="327.6" y2="66.9" stroke="#000" stroke-width="1.1"/>
<line x1="323.6" y1="68.7" x2="329.1" y2="67" stroke="#000" stroke-width="1.1"/>
<line x1="325.5" y1="69.2" x2="330.8" y2="67.5" stroke="#000" stroke-width="1.1"/>
<line x1="327.4" y1="70.1" x2="332.5" y2="68.3" stroke="#000" stroke-width="1.1"/>
<line x1="329.3" y1="71.4" x2="334.2" y2="69.5" stroke="#000" stroke-width="1.1"/>
<line x1="331" y1="73.1" x2="335.8" y2="71" stroke="#000" stroke-width="1.1"/>
<line x1="332.6" y1="75" x2="337.2" y2="72.7" stroke="#000" stroke-width="1.1"/>
<line x1="334" y1="77.2" x2="338.5" y2="74.7" stroke="#000" stroke-width="1.1"/>
<line x1="335.2" y1="79.5" x2="339.5" y2="76.7" stroke="#000" stroke-width="1.1"/>
<line x1="336" y1="81.9" x2="340.3" y2="78.9" stroke="#000" stroke-width="1.1"/>
<line x1="336.6" y1="84.3" x2="340.8" y2="81" stroke="#000" stroke-width="1.1"/>
<line x1="336.7" y1="86.5" x2="340.9" y2="83.1" stroke="#000" stroke-width="1.1"/>
<line x1="336.6" y1="88.6" x2="340.8" y2="84.9" stroke="#000" stroke-width="1.1"/>
<line x1="336.1" y1="90.5" x2="340.3" y2="86.6" stroke="#000" stroke-width="1.1"/>
<line x1="335.2" y1="92" x2="339.6" y2="88" stroke="#000" stroke-width="1.1"/>
<line x1="334.1" y1="93.2" x2="338.5" y2="89.1" stroke="#000" stroke-width="1.1"/>
<ellipse cx="326.5" cy="81.5" rx="8.7" ry="14" transform="rotate(-29.7 326.5 81.5)" fill="#fff" stroke="#000" stroke-width="2.6" />
<ellipse cx="326.5" cy="81.5" rx="6.9" ry="11.2" transform="rotate(-29.7 326.5 81.5)" fill="#fff" stroke="#000" stroke-width="1.6" />
<polyline points="332.5,89.7 332.1,89.9 331.6,90 331.1,90.1 330.6,90.2 330.1,90.2 329.5,90.1 329,90 328.4,89.8 327.8,89.6 327.2,89.3 326.7,88.9 326.1,88.6 325.5,88.1 325,87.6 324.4,87.1 323.9,86.6 323.4,86 323,85.3 322.5,84.7 322.1,84 321.7,83.3 321.4,82.6 321.1,81.9 320.8,81.1 320.6,80.4 320.4,79.7 320.3,79 320.2,78.3 320.2,77.6 320.2,76.9 320.2,76.3 320.3,75.6 320.4,75.1 320.6,74.5 320.9,74 321.1,73.5 321.4,73.1 321.8,72.7 322.1,72.4 322.6,72.1" fill="none" stroke="#000" stroke-width="1" />
<ellipse cx="361.7" cy="63" rx="8.7" ry="15.5" transform="rotate(-29.7 361.7 63)" fill="#fff" stroke="#000" stroke-width="1" />
<polygon points="364.6,79.2 369.4,76.4 354,49.5 349.2,52.2" fill="#fff" stroke="none" stroke-width="0" />
<line x1="364.6" y1="79.2" x2="369.4" y2="76.4" stroke="#000" stroke-width="1"/>
<line x1="354" y1="49.5" x2="349.2" y2="52.2" stroke="#000" stroke-width="1"/>
<ellipse cx="356.9" cy="65.7" rx="8.7" ry="15.5" transform="rotate(-29.7 356.9 65.7)" fill="#fff" stroke="#000" stroke-width="1" />
<ellipse cx="356.9" cy="65.7" rx="8.7" ry="15.5" transform="rotate(-29.7 356.9 65.7)" fill="#fff" stroke="#000" stroke-width="1.3" />
<ellipse cx="356.9" cy="65.7" rx="8" ry="14.2" transform="rotate(-29.7 356.9 65.7)" fill="none" stroke="#000" stroke-width="0.8" />
<polyline points="368.5,74.9 367.9,75.1 367.3,75.3 366.7,75.4 366.1,75.5 365.4,75.4 364.7,75.3 364,75.1 363.2,74.8 362.5,74.5 361.8,74.1 361,73.6 360.3,73 359.5,72.4 358.8,71.8 358.1,71 357.4,70.3 356.8,69.4 356.2,68.6 355.6,67.7 355,66.8 354.5,65.8 354,64.9 353.6,63.9 353.2,62.9 352.9,61.9 352.7,61 352.5,60 352.3,59.1 352.2,58.1 352.2,57.2 352.2,56.4 352.3,55.6 352.4,54.8 352.6,54.1 352.9,53.4 353.2,52.8 353.5,52.3 353.9,51.8 354.4,51.4 354.9,51.1" fill="none" stroke="#000" stroke-width="1" />
<ellipse cx="375" cy="482.3" rx="10.1" ry="18" transform="rotate(-29.7 375 482.3)" fill="#fff" stroke="#000" stroke-width="1" />
<polygon points="377.4,501.6 383.9,497.9 366.1,466.6 359.6,470.4" fill="#fff" stroke="none" stroke-width="0" />
<line x1="377.4" y1="501.6" x2="383.9" y2="497.9" stroke="#000" stroke-width="1"/>
<line x1="366.1" y1="466.6" x2="359.6" y2="470.4" stroke="#000" stroke-width="1"/>
<ellipse cx="368.5" cy="486" rx="10.1" ry="18" transform="rotate(-29.7 368.5 486)" fill="#fff" stroke="#000" stroke-width="1" />
<ellipse cx="368.5" cy="486" rx="10.1" ry="18" transform="rotate(-29.7 368.5 486)" fill="#fff" stroke="#000" stroke-width="1.3" />
<ellipse cx="368.5" cy="486" rx="9.4" ry="16.7" transform="rotate(-29.7 368.5 486)" fill="none" stroke="#000" stroke-width="0.8" />
<polyline points="383,496.4 382.4,496.7 381.7,496.9 381,497 380.2,497.1 379.4,497 378.6,496.9 377.7,496.6 376.9,496.3 376,495.9 375.1,495.4 374.2,494.8 373.4,494.2 372.5,493.5 371.6,492.7 370.8,491.8 370,490.9 369.2,489.9 368.5,488.9 367.8,487.9 367.1,486.8 366.5,485.7 366,484.5 365.5,483.4 365,482.2 364.7,481.1 364.4,479.9 364.1,478.8 363.9,477.6 363.8,476.6 363.8,475.5 363.8,474.5 363.9,473.5 364.1,472.6 364.3,471.8 364.6,471 365,470.3 365.4,469.6 365.9,469.1 366.4,468.6 367,468.2" fill="none" stroke="#000" stroke-width="1" />
<ellipse cx="260.5" cy="545.8" rx="9.2" ry="14.8" transform="rotate(-29.7 260.5 545.8)" fill="#fff" stroke="#000" stroke-width="1.2" />
<polygon points="262.2,563.8 267.9,558.7 253.2,532.9 245.8,535.2" fill="#fff" stroke="none" stroke-width="0" />
<line x1="262.2" y1="563.8" x2="267.9" y2="558.7" stroke="#000" stroke-width="1.2"/>
<line x1="253.2" y1="532.9" x2="245.8" y2="535.2" stroke="#000" stroke-width="1.2"/>
<line x1="246.7" y1="534.8" x2="253.9" y2="532.5" stroke="#000" stroke-width="1.1"/>
<line x1="248.6" y1="534.3" x2="255.6" y2="532.1" stroke="#000" stroke-width="1.1"/>
<line x1="250.6" y1="534.4" x2="257.5" y2="532.2" stroke="#000" stroke-width="1.1"/>
<line x1="252.8" y1="535" x2="259.5" y2="532.7" stroke="#000" stroke-width="1.1"/>
<line x1="255.1" y1="536.1" x2="261.5" y2="533.7" stroke="#000" stroke-width="1.1"/>
<line x1="257.2" y1="537.6" x2="263.4" y2="535.1" stroke="#000" stroke-width="1.1"/>
<line x1="259.3" y1="539.6" x2="265.3" y2="536.9" stroke="#000" stroke-width="1.1"/>
<line x1="261.2" y1="541.9" x2="267" y2="538.9" stroke="#000" stroke-width="1.1"/>
<line x1="262.9" y1="544.4" x2="268.5" y2="541.2" stroke="#000" stroke-width="1.1"/>
<line x1="264.2" y1="547.2" x2="269.7" y2="543.7" stroke="#000" stroke-width="1.1"/>
<line x1="265.2" y1="550" x2="270.6" y2="546.2" stroke="#000" stroke-width="1.1"/>
<line x1="265.9" y1="552.7" x2="271.2" y2="548.7" stroke="#000" stroke-width="1.1"/>
<line x1="266.1" y1="555.4" x2="271.4" y2="551.1" stroke="#000" stroke-width="1.1"/>
<line x1="265.9" y1="557.9" x2="271.2" y2="553.3" stroke="#000" stroke-width="1.1"/>
<line x1="265.3" y1="560.1" x2="270.7" y2="555.3" stroke="#000" stroke-width="1.1"/>
<line x1="264.3" y1="561.9" x2="269.8" y2="557" stroke="#000" stroke-width="1.1"/>
<line x1="262.9" y1="563.3" x2="268.6" y2="558.2" stroke="#000" stroke-width="1.1"/>
<ellipse cx="254" cy="549.5" rx="10.2" ry="16.5" transform="rotate(-29.7 254 549.5)" fill="#fff" stroke="#000" stroke-width="2.6" />
<ellipse cx="254" cy="549.5" rx="8.2" ry="13.2" transform="rotate(-29.7 254 549.5)" fill="#fff" stroke="#000" stroke-width="1.6" />
<polyline points="260.9,559.2 260.4,559.5 259.9,559.7 259.3,559.8 258.7,559.8 258,559.8 257.4,559.8 256.7,559.6 256,559.4 255.4,559.1 254.7,558.8 254,558.4 253.3,557.9 252.7,557.4 252,556.8 251.4,556.2 250.8,555.6 250.2,554.9 249.6,554.1 249.1,553.4 248.6,552.6 248.2,551.7 247.8,550.9 247.4,550 247.1,549.2 246.9,548.3 246.7,547.5 246.5,546.6 246.4,545.8 246.4,545 246.4,544.2 246.4,543.4 246.5,542.7 246.7,542 246.9,541.4 247.2,540.8 247.5,540.2 247.8,539.7 248.2,539.3 248.7,538.9 249.2,538.6" fill="none" stroke="#000" stroke-width="1" />
<ellipse cx="231" cy="564.5" rx="10.1" ry="18" transform="rotate(-29.7 231 564.5)" fill="#fff" stroke="#000" stroke-width="1" />
<polygon points="232.9,584.1 239.9,580.2 222,548.9 215.1,552.9" fill="#fff" stroke="none" stroke-width="0" />
<line x1="232.9" y1="584.1" x2="239.9" y2="580.2" stroke="#000" stroke-width="1"/>
<line x1="222" y1="548.9" x2="215.1" y2="552.9" stroke="#000" stroke-width="1"/>
<ellipse cx="224" cy="568.5" rx="10.1" ry="18" transform="rotate(-29.7 224 568.5)" fill="#fff" stroke="#000" stroke-width="1" />
<ellipse cx="224" cy="568.5" rx="10.1" ry="18" transform="rotate(-29.7 224 568.5)" fill="#fff" stroke="#000" stroke-width="1.3" />
<ellipse cx="224" cy="568.5" rx="9.4" ry="16.7" transform="rotate(-29.7 224 568.5)" fill="none" stroke="#000" stroke-width="0.8" />
<polyline points="239,578.6 238.3,578.9 237.6,579.1 236.9,579.3 236.1,579.3 235.3,579.3 234.5,579.1 233.7,578.9 232.8,578.6 231.9,578.2 231,577.7 230.2,577.1 229.3,576.4 228.4,575.7 227.6,574.9 226.7,574.1 225.9,573.2 225.2,572.2 224.4,571.2 223.7,570.1 223.1,569 222.5,567.9 221.9,566.8 221.4,565.6 221,564.5 220.6,563.3 220.3,562.2 220,561 219.9,559.9 219.7,558.8 219.7,557.8 219.7,556.8 219.8,555.8 220,554.9 220.2,554 220.5,553.3 220.9,552.5 221.3,551.9 221.8,551.3 222.3,550.9 222.9,550.5" fill="none" stroke="#000" stroke-width="1" />
<ellipse cx="214.6" cy="469" rx="8.8" ry="15.8" transform="rotate(-29.7 214.6 469)" fill="#fff" stroke="#000" stroke-width="1" />
<polygon points="216.3,486.2 222.4,482.8 206.8,455.3 200.7,458.8" fill="#fff" stroke="none" stroke-width="0" />
<line x1="216.3" y1="486.2" x2="222.4" y2="482.8" stroke="#000" stroke-width="1"/>
<line x1="206.8" y1="455.3" x2="200.7" y2="458.8" stroke="#000" stroke-width="1"/>
<ellipse cx="208.5" cy="472.5" rx="8.8" ry="15.8" transform="rotate(-29.7 208.5 472.5)" fill="#fff" stroke="#000" stroke-width="1" />
<ellipse cx="208.5" cy="472.5" rx="8.8" ry="15.8" transform="rotate(-29.7 208.5 472.5)" fill="#fff" stroke="#000" stroke-width="1.3" />
<ellipse cx="208.5" cy="472.5" rx="8.1" ry="14.5" transform="rotate(-29.7 208.5 472.5)" fill="none" stroke="#000" stroke-width="0.8" />
<polyline points="221.5,481.2 221,481.5 220.4,481.7 219.7,481.8 219.1,481.8 218.4,481.8 217.7,481.6 216.9,481.4 216.2,481.2 215.4,480.8 214.7,480.4 213.9,479.9 213.1,479.3 212.4,478.7 211.7,478 210.9,477.3 210.2,476.5 209.6,475.6 208.9,474.8 208.3,473.9 207.8,472.9 207.2,471.9 206.8,471 206.3,470 206,469 205.6,468 205.4,467 205.2,466 205,465 204.9,464.1 204.9,463.2 204.9,462.3 205,461.5 205.1,460.7 205.3,460 205.6,459.3 205.9,458.7 206.3,458.1 206.7,457.6 207.1,457.2 207.6,456.9" fill="none" stroke="#000" stroke-width="1" />
<path d="M303.6,702.4 C304.4,702.4 305.8,702.7 308.3,704.1 C310.8,705.5 331.3,717.0 333.8,718.9 C336.3,720.8 337.9,725.3 338.6,726.9 C339.3,728.5 342.1,736.1 342.4,738.1 C342.7,740.1 342.6,749.1 342.4,750.8 C342.2,752.6 340.4,758.3 339.7,759.1 C339.0,759.9 335.8,760.6 333.8,760.3 C331.9,760.0 318.2,756.2 316.3,755.6 C314.4,755.0 312.3,753.6 311.5,753.1 C310.7,752.6 307.8,750.5 306.7,749.2 C305.6,747.9 299.7,740.3 298.8,738.0 C297.9,735.7 295.9,724.4 295.6,722.1 C295.3,719.9 295.3,712.5 295.6,711.0 C295.9,709.5 298.0,705.3 298.7,704.6 C299.4,703.9 302.8,702.4 303.6,702.4Z" fill="none" stroke="#000" stroke-width="1" />
<ellipse cx="318.7" cy="731.6" rx="13.3" ry="23.8" transform="rotate(-29.7 318.7 731.6)" fill="none" stroke="#000" stroke-width="1.1" />
<ellipse cx="304.4" cy="707.1" rx="1.6" ry="1.8" transform="rotate(0 304.4 707.1)" fill="#fff" stroke="#000" stroke-width="0.9"/>
<ellipse cx="339.2" cy="737.1" rx="1.6" ry="1.8" transform="rotate(0 339.2 737.1)" fill="#fff" stroke="#000" stroke-width="0.9"/>
<ellipse cx="312.5" cy="751.4" rx="1.6" ry="1.8" transform="rotate(0 312.5 751.4)" fill="#fff" stroke="#000" stroke-width="0.9"/>
<path d="M339.4,680.8 C340.2,680.8 341.6,681.1 344.1,682.5 C346.6,683.9 367.1,695.4 369.6,697.3 C372.1,699.2 373.7,703.7 374.4,705.3 C375.1,706.9 377.9,714.5 378.2,716.5 C378.5,718.5 378.4,727.5 378.2,729.2 C378.0,731.0 376.2,736.7 375.5,737.5 C374.8,738.3 371.6,739.0 369.6,738.7 C367.7,738.4 354.0,734.6 352.1,734.0 C350.2,733.4 348.1,732.0 347.3,731.5 C346.5,731.0 343.6,728.9 342.5,727.6 C341.4,726.3 335.5,718.7 334.6,716.4 C333.7,714.1 331.7,702.8 331.4,700.5 C331.1,698.2 331.1,690.9 331.4,689.4 C331.7,687.9 333.8,683.7 334.5,683.0 C335.2,682.3 338.6,680.8 339.4,680.8Z" fill="none" stroke="#000" stroke-width="1" />
<ellipse cx="354.5" cy="710" rx="13.3" ry="23.8" transform="rotate(-29.7 354.5 710)" fill="none" stroke="#000" stroke-width="1.1" />
<ellipse cx="340.2" cy="685.5" rx="1.6" ry="1.8" transform="rotate(0 340.2 685.5)" fill="#fff" stroke="#000" stroke-width="0.9"/>
<ellipse cx="375" cy="715.5" rx="1.6" ry="1.8" transform="rotate(0 375 715.5)" fill="#fff" stroke="#000" stroke-width="0.9"/>
<ellipse cx="348.3" cy="729.8" rx="1.6" ry="1.8" transform="rotate(0 348.3 729.8)" fill="#fff" stroke="#000" stroke-width="0.9"/>
<path d="M377.1,658.5 C377.9,658.5 379.3,658.8 381.8,660.2 C384.3,661.6 404.8,673.1 407.3,675.0 C409.8,676.9 411.4,681.4 412.1,683.0 C412.8,684.6 415.6,692.2 415.9,694.2 C416.2,696.2 416.1,705.2 415.9,706.9 C415.7,708.7 413.9,714.4 413.2,715.2 C412.5,716.0 409.2,716.7 407.3,716.4 C405.4,716.1 391.7,712.3 389.8,711.7 C387.9,711.1 385.8,709.7 385.0,709.2 C384.2,708.7 381.3,706.6 380.2,705.3 C379.1,704.0 373.2,696.4 372.3,694.1 C371.4,691.8 369.4,680.5 369.1,678.2 C368.8,676.0 368.8,668.6 369.1,667.1 C369.4,665.6 371.5,661.4 372.2,660.7 C372.9,660.0 376.3,658.5 377.1,658.5Z" fill="none" stroke="#000" stroke-width="1" />
<ellipse cx="392.2" cy="687.7" rx="13.3" ry="23.8" transform="rotate(-29.7 392.2 687.7)" fill="none" stroke="#000" stroke-width="1.1" />
<ellipse cx="377.9" cy="663.2" rx="1.6" ry="1.8" transform="rotate(0 377.9 663.2)" fill="#fff" stroke="#000" stroke-width="0.9"/>
<ellipse cx="412.7" cy="693.2" rx="1.6" ry="1.8" transform="rotate(0 412.7 693.2)" fill="#fff" stroke="#000" stroke-width="0.9"/>
<ellipse cx="386" cy="707.5" rx="1.6" ry="1.8" transform="rotate(0 386 707.5)" fill="#fff" stroke="#000" stroke-width="0.9"/>
<path d="M413.4,637.3 C414.2,637.3 415.6,637.6 418.1,639.0 C420.6,640.4 441.1,651.9 443.6,653.8 C446.1,655.7 447.7,660.2 448.4,661.8 C449.1,663.4 451.9,671.0 452.2,673.0 C452.5,675.0 452.4,684.0 452.2,685.7 C452.0,687.5 450.2,693.2 449.5,694.0 C448.8,694.8 445.6,695.5 443.6,695.2 C441.7,694.9 428.0,691.1 426.1,690.5 C424.2,689.9 422.1,688.5 421.3,688.0 C420.5,687.5 417.6,685.4 416.5,684.1 C415.4,682.8 409.5,675.2 408.6,672.9 C407.7,670.6 405.7,659.2 405.4,657.0 C405.1,654.8 405.1,647.4 405.4,645.9 C405.7,644.4 407.8,640.2 408.5,639.5 C409.2,638.8 412.6,637.3 413.4,637.3Z" fill="none" stroke="#000" stroke-width="1" />
<ellipse cx="428.5" cy="666.5" rx="13.3" ry="23.8" transform="rotate(-29.7 428.5 666.5)" fill="none" stroke="#000" stroke-width="1.1" />
<ellipse cx="414.2" cy="642" rx="1.6" ry="1.8" transform="rotate(0 414.2 642)" fill="#fff" stroke="#000" stroke-width="0.9"/>
<ellipse cx="449" cy="672" rx="1.6" ry="1.8" transform="rotate(0 449 672)" fill="#fff" stroke="#000" stroke-width="0.9"/>
<ellipse cx="422.3" cy="686.3" rx="1.6" ry="1.8" transform="rotate(0 422.3 686.3)" fill="#fff" stroke="#000" stroke-width="0.9"/>
<path d="M452.4,615.3 C453.2,615.3 454.6,615.6 457.1,617.0 C459.6,618.4 480.1,629.9 482.6,631.8 C485.1,633.7 486.7,638.2 487.4,639.8 C488.1,641.4 490.9,649.0 491.2,651.0 C491.5,653.0 491.4,662.0 491.2,663.7 C491.0,665.5 489.2,671.2 488.5,672.0 C487.8,672.8 484.6,673.5 482.6,673.2 C480.7,672.9 467.0,669.1 465.1,668.5 C463.2,667.9 461.1,666.5 460.3,666.0 C459.5,665.5 456.6,663.4 455.5,662.1 C454.4,660.8 448.5,653.2 447.6,650.9 C446.7,648.6 444.7,637.2 444.4,635.0 C444.1,632.8 444.1,625.4 444.4,623.9 C444.7,622.4 446.8,618.2 447.5,617.5 C448.2,616.8 451.6,615.3 452.4,615.3Z" fill="none" stroke="#000" stroke-width="1" />
<ellipse cx="467.5" cy="644.5" rx="13.3" ry="23.8" transform="rotate(-29.7 467.5 644.5)" fill="none" stroke="#000" stroke-width="1.1" />
<ellipse cx="453.2" cy="620" rx="1.6" ry="1.8" transform="rotate(0 453.2 620)" fill="#fff" stroke="#000" stroke-width="0.9"/>
<ellipse cx="488" cy="650" rx="1.6" ry="1.8" transform="rotate(0 488 650)" fill="#fff" stroke="#000" stroke-width="0.9"/>
<ellipse cx="461.3" cy="664.3" rx="1.6" ry="1.8" transform="rotate(0 461.3 664.3)" fill="#fff" stroke="#000" stroke-width="0.9"/>
<ellipse cx="503.3" cy="624" rx="12" ry="21.5" transform="rotate(-29.7 503.3 624)" fill="none" stroke="#000" stroke-width="2" />
<ellipse cx="279.2" cy="752.4" rx="11.8" ry="21" transform="rotate(-29.7 279.2 752.4)" fill="#fff" stroke="#000" stroke-width="2.4" />
<polyline points="263.4,727 287.9,742.6 291.2,744.8 297.4,756 299.6,766 299.1,777.2 294.6,783.9 290.1,785" fill="#fff" stroke="#000" stroke-width="1" />
<polygon points="251.1,731.7 258.4,727.2 261.2,727.8 285.7,743.4 289,745.6 295.2,756.8 297.4,766.8 296.9,778 292.4,784.7 287.9,785.8 270.1,782.4 265.6,780.2 256.7,770.2 248.9,754.6 248.4,742.3 249.5,734.5" fill="#fff" stroke="#000" stroke-width="1" />
<ellipse cx="270.1" cy="757.4" rx="11.5" ry="20.5" transform="rotate(-29.7 270.1 757.4)" fill="none" stroke="#000" stroke-width="1.1" />
<ellipse cx="269.8" cy="758.2" rx="5.3" ry="9.5" transform="rotate(-29.7 269.8 758.2)" fill="#fff" stroke="#000" stroke-width="1" />
<ellipse cx="269.8" cy="758.2" rx="4.2" ry="7.5" transform="rotate(-29.7 269.8 758.2)" fill="#fff" stroke="#000" stroke-width="1" />
<ellipse cx="268.4" cy="759" rx="3.4" ry="6" transform="rotate(-29.7 268.4 759)" fill="#000" stroke="#000" stroke-width="0" />
<ellipse cx="268.6" cy="758.8" rx="1" ry="1.8" transform="rotate(-29.7 268.6 758.8)" fill="#fff" stroke="#000" stroke-width="0" />
<ellipse cx="256.7" cy="733.4" rx="1.6" ry="1.8" transform="rotate(0 256.7 733.4)" fill="#fff" stroke="#000" stroke-width="0.9"/>
<ellipse cx="291.3" cy="762.9" rx="1.6" ry="1.8" transform="rotate(0 291.3 762.9)" fill="#fff" stroke="#000" stroke-width="0.9"/>
<ellipse cx="265.6" cy="777.4" rx="1.6" ry="1.8" transform="rotate(0 265.6 777.4)" fill="#fff" stroke="#000" stroke-width="0.9"/>
<polygon points="233.2,748.4 244.5,742 242.9,739.2 231.6,745.6" fill="#fff" stroke="#000" stroke-width="0.9" />
<line x1="237.5" y1="745.9" x2="235.1" y2="743.6" stroke="#000" stroke-width="0.8"/>
<line x1="239.3" y1="744.9" x2="236.8" y2="742.6" stroke="#000" stroke-width="0.8"/>
<line x1="241" y1="743.9" x2="238.6" y2="741.6" stroke="#000" stroke-width="0.8"/>
<line x1="242.7" y1="742.9" x2="240.3" y2="740.7" stroke="#000" stroke-width="0.8"/>
<line x1="244.5" y1="742" x2="242" y2="739.7" stroke="#000" stroke-width="0.8"/>
<ellipse cx="234.1" cy="746" rx="2" ry="3.6" transform="rotate(-29.7 234.1 746)" fill="#fff" stroke="#000" stroke-width="1" />
<polygon points="234.2,750.1 235.9,749.1 232.4,742.9 230.6,743.9" fill="#fff" stroke="none" stroke-width="0" />
<line x1="234.2" y1="750.1" x2="235.9" y2="749.1" stroke="#000" stroke-width="1"/>
<line x1="232.4" y1="742.9" x2="230.6" y2="743.9" stroke="#000" stroke-width="1"/>
<ellipse cx="232.4" cy="747" rx="2" ry="3.6" transform="rotate(-29.7 232.4 747)" fill="#fff" stroke="#000" stroke-width="1" />
<polyline points="246,739.5 257,733" fill="none" stroke="#2a2a2a" stroke-width="0.95" stroke-dasharray="7.7 2.8 1.3 2.7" stroke-linecap="butt"/>
<clipPath id="bores"><ellipse cx="339.0" cy="502.0" rx="8.0" ry="12.9" transform="rotate(-29.68 339.0 502.0)"/><ellipse cx="233.5" cy="458.5" rx="7.3" ry="11.7" transform="rotate(-29.68 233.5 458.5)"/><ellipse cx="326.5" cy="81.5" rx="6.8" ry="10.9" transform="rotate(-29.68 326.5 81.5)"/><ellipse cx="356.9" cy="65.7" rx="7.8" ry="14.0" transform="rotate(-29.68 356.9 65.7)"/><ellipse cx="368.5" cy="486.0" rx="9.2" ry="16.5" transform="rotate(-29.68 368.5 486.0)"/><ellipse cx="254.0" cy="549.5" rx="8.0" ry="12.9" transform="rotate(-29.68 254.0 549.5)"/><ellipse cx="224.0" cy="568.5" rx="9.2" ry="16.5" transform="rotate(-29.68 224.0 568.5)"/><ellipse cx="208.5" cy="472.5" rx="8.0" ry="14.3" transform="rotate(-29.68 208.5 472.5)"/><ellipse cx="166.0" cy="498.5" rx="8.7" ry="15.5" transform="rotate(-29.68 166.0 498.5)"/><ellipse cx="282.5" cy="534.0" rx="4.0" ry="7.2" transform="rotate(-29.68 282.5 534.0)"/></clipPath>
<g clip-path="url(#bores)">
<polyline points="88,221 377.5,53.3 377.5,194.5 99.5,355 99.5,535" fill="none" stroke="#2a2a2a" stroke-width="0.95" stroke-dasharray="7.7 2.8 1.3 2.7" stroke-linecap="butt"/>
<polyline points="99.5,535 511,299" fill="none" stroke="#2a2a2a" stroke-width="0.95" stroke-dasharray="7.7 2.8 1.3 2.7" stroke-linecap="butt"/>
<polyline points="482,307 391.5,358 391.5,473 206.5,578 206.5,695 477.8,539.6 530.4,569.8 532,609.6 516,616" fill="none" stroke="#2a2a2a" stroke-width="0.95" stroke-dasharray="7.7 2.8 1.3 2.7" stroke-linecap="butt"/>
</g>
</svg>
</body></html>
